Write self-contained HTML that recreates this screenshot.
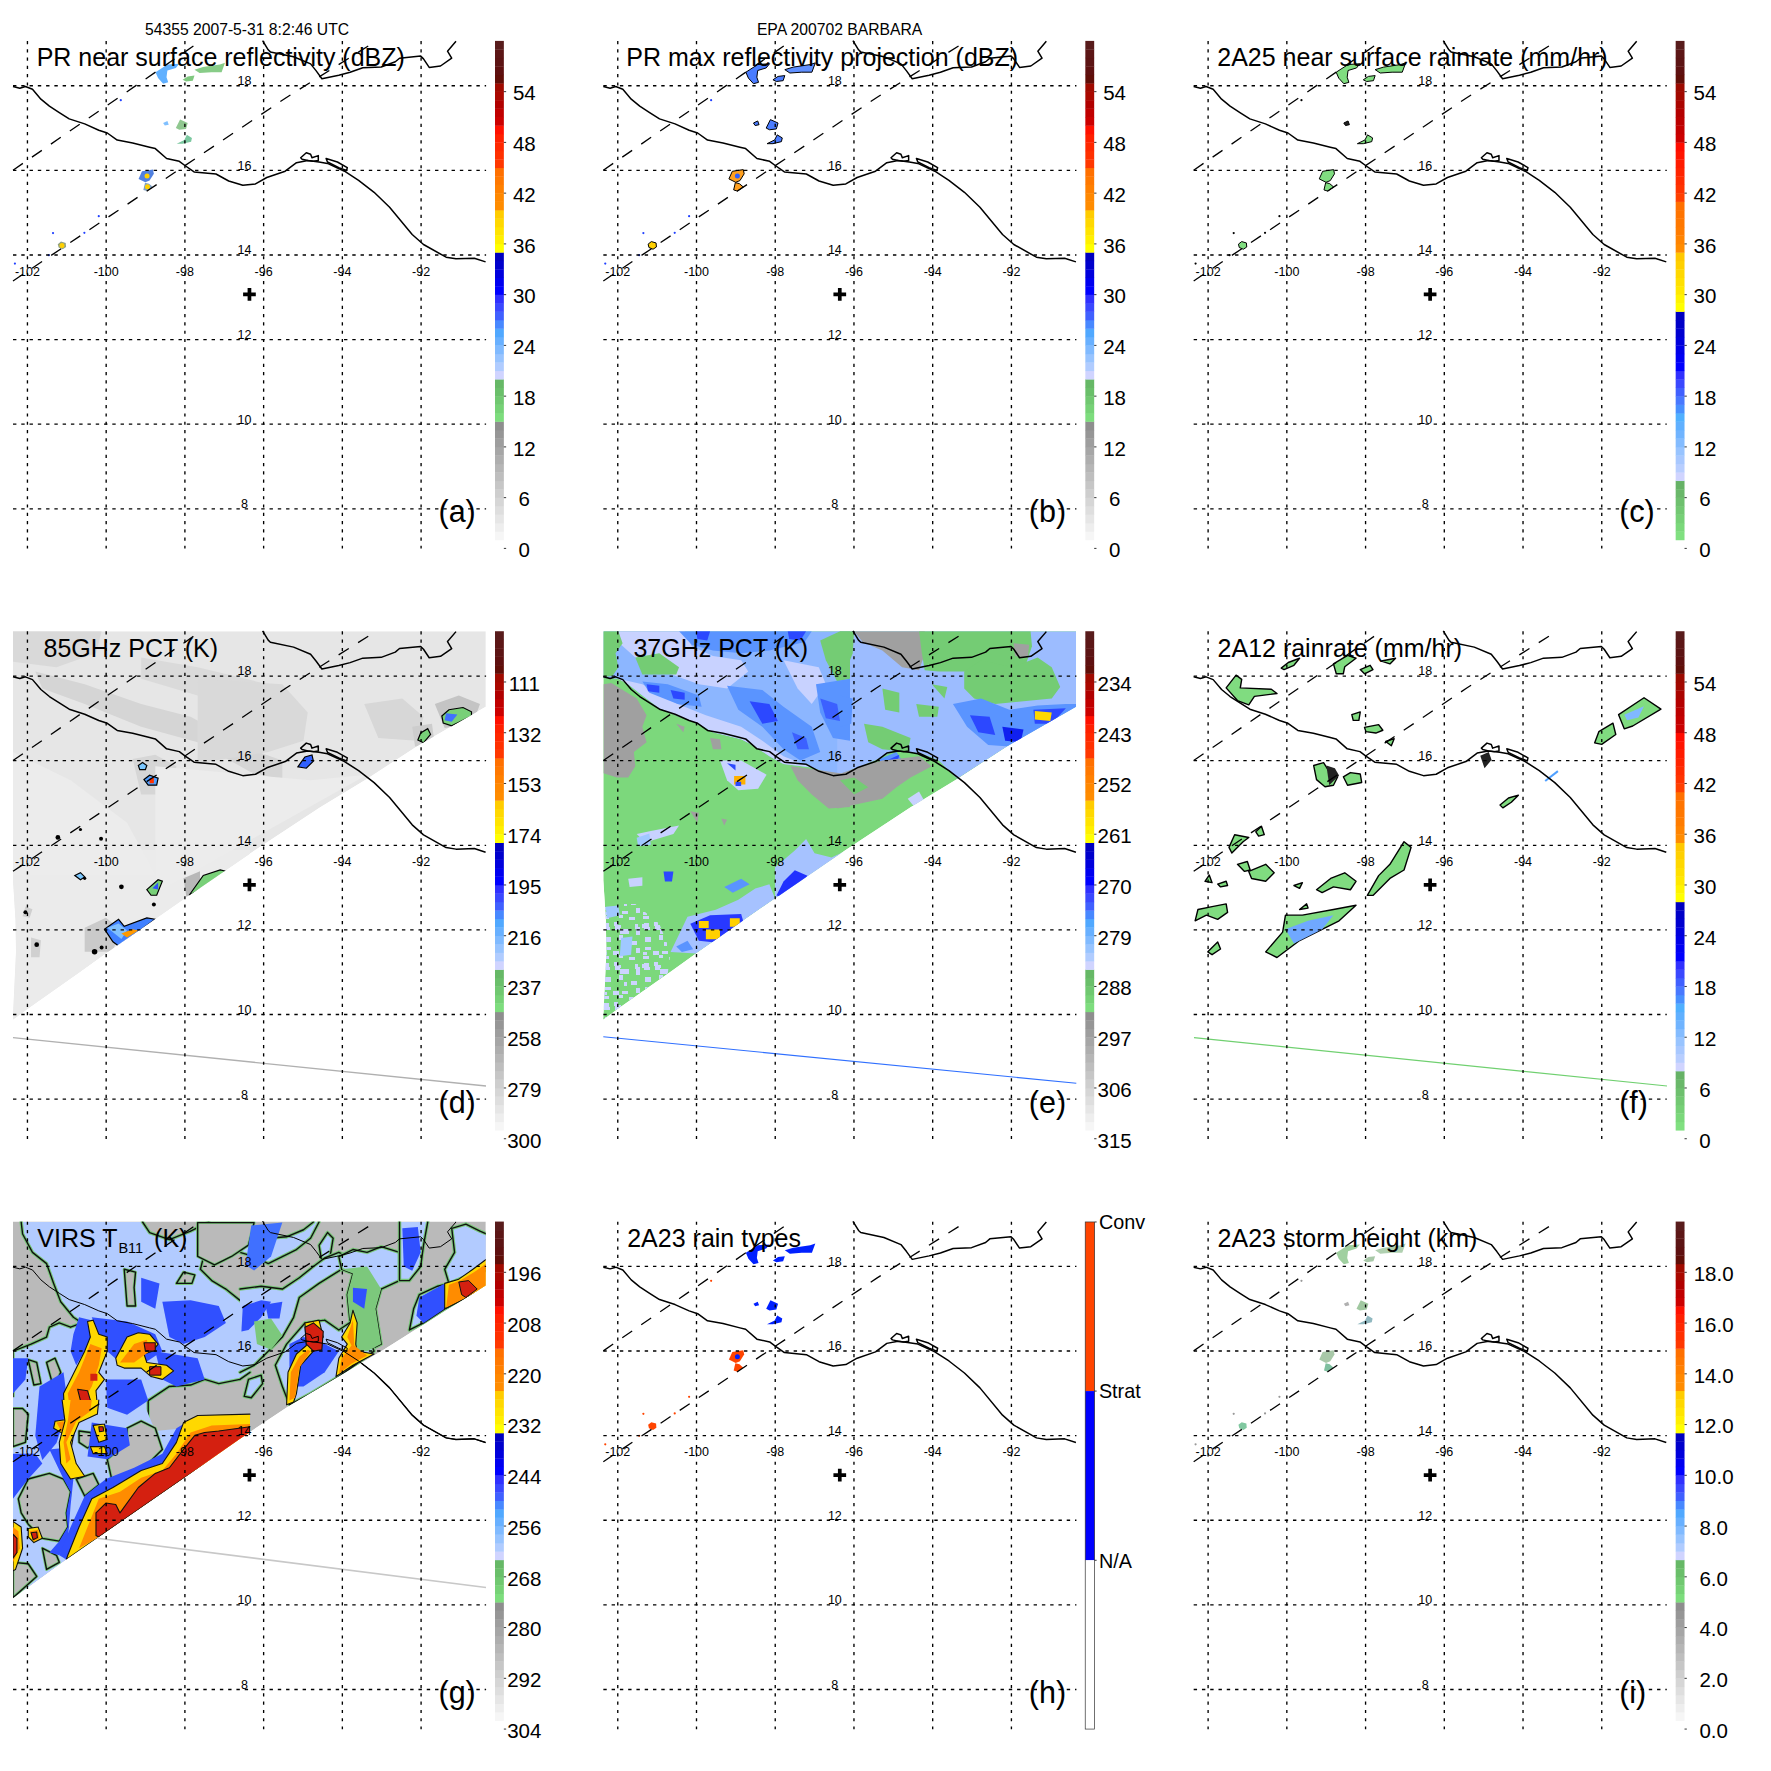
<!DOCTYPE html>
<html><head><meta charset="utf-8"><style>
html,body{margin:0;padding:0;background:#fff;}
svg{display:block;font-family:"Liberation Sans",sans-serif;}
</style></head><body>
<svg width="1771" height="1771" viewBox="0 0 1771 1771">
<rect width="1771" height="1771" fill="#fff"/>
<defs><g id="grid" fill="none" stroke="#000" stroke-width="1.35"><path d="M27.44 41V548.6M106.17 41V548.6M184.9 41V548.6M263.63 41V548.6M342.36 41V548.6M421.09 41V548.6" stroke-dasharray="3.2 5.075"/><path d="M13 85.75H486.1M13 170.36H486.1M13 254.97H486.1M13 339.58H486.1M13 424.19H486.1M13 508.8H486.1" stroke-dasharray="3.4 4.875"/></g><g id="swath" fill="none" stroke="#000" stroke-width="1.3" stroke-dasharray="12 11"><path d="M13 170.2L200 41.5"/><path d="M13 281L286.1 97.7L375.9 41.1"/></g><g id="coast" fill="none" stroke="#000" stroke-width="1.5" stroke-linejoin="round"><path d="M13 86.5 L19.8 88.2 L25.4 86.5 L32.5 89.3 L40.9 99.2 L49.4 106.2 L59.3 112.6 L69.2 118.9 L84.7 123.9 L98.8 130.2 L107.3 133 L117.2 140.1 L132.7 142.9 L149.6 147.2 L155.3 148.6 L166.6 158.5 L179.3 161.3 L184.9 165.5 L194.1 171.9 L216 174 L228.7 181 L242.8 185.3 L255.5 183.9 L266.8 177.5 L285.2 171.2 L296.5 162.7 L307.8 160.6 L319 162 L327.5 163.4 L344.5 171.2 L358.6 180.3 L374.1 192.3 L389.6 207.2 L412.2 234.5 L423.5 244.5 L446.1 257.2 L456 258.8 L474.3 258.2 L485.6 261.9"/><path d="M262.6 40.6 L268.2 49.8 L270.4 51.9 L293.6 56.8 L310.6 63.9 L316.2 70.9 L321.9 78.7 L338.8 75.2 L350.1 72.3 L362.8 67.8 L381.2 67 L395.3 61.8 L399.5 58.2 L420.7 56.1 L423.5 58.9 L429.2 67.4 L440.5 66 L451.7 58.2 L447.5 51.2 L456 41.3"/><path d="M300.7 157.8 L306.3 152.8 L310.6 154.2 L312 157.8 L318.3 155.6 L318.3 160.6 L313.4 161.3 L307.8 160.6 L302.1 159.2Z"/><path d="M326.1 158.5 L337.4 162 L347.3 167.6 L346.6 170.5 L338.8 167.6 L327.5 162Z"/></g><g id="coastthin" fill="none" stroke="#000" stroke-width="1.0" stroke-linejoin="round"><path d="M13 86.5 L19.8 88.2 L25.4 86.5 L32.5 89.3 L40.9 99.2 L49.4 106.2 L59.3 112.6 L69.2 118.9 L84.7 123.9 L98.8 130.2 L107.3 133 L117.2 140.1 L132.7 142.9 L149.6 147.2 L155.3 148.6 L166.6 158.5 L179.3 161.3 L184.9 165.5 L194.1 171.9 L216 174 L228.7 181 L242.8 185.3 L255.5 183.9 L266.8 177.5 L285.2 171.2 L296.5 162.7 L307.8 160.6 L319 162 L327.5 163.4 L344.5 171.2 L358.6 180.3 L374.1 192.3 L389.6 207.2 L412.2 234.5 L423.5 244.5 L446.1 257.2 L456 258.8 L474.3 258.2 L485.6 261.9"/><path d="M262.6 40.6 L268.2 49.8 L270.4 51.9 L293.6 56.8 L310.6 63.9 L316.2 70.9 L321.9 78.7 L338.8 75.2 L350.1 72.3 L362.8 67.8 L381.2 67 L395.3 61.8 L399.5 58.2 L420.7 56.1 L423.5 58.9 L429.2 67.4 L440.5 66 L451.7 58.2 L447.5 51.2 L456 41.3"/><path d="M300.7 157.8 L306.3 152.8 L310.6 154.2 L312 157.8 L318.3 155.6 L318.3 160.6 L313.4 161.3 L307.8 160.6 L302.1 159.2Z"/><path d="M326.1 158.5 L337.4 162 L347.3 167.6 L346.6 170.5 L338.8 167.6 L327.5 162Z"/></g><g id="ll" font-size="12.5"><text x="27.44" y="275.7" text-anchor="middle">-102</text><text x="106.17" y="275.7" text-anchor="middle">-100</text><text x="184.9" y="275.7" text-anchor="middle">-98</text><text x="263.63" y="275.7" text-anchor="middle">-96</text><text x="342.36" y="275.7" text-anchor="middle">-94</text><text x="421.09" y="275.7" text-anchor="middle">-92</text><text x="244.5" y="85.15" text-anchor="middle">18</text><text x="244.5" y="169.76" text-anchor="middle">16</text><text x="244.5" y="254.37" text-anchor="middle">14</text><text x="244.5" y="338.98" text-anchor="middle">12</text><text x="244.5" y="423.59" text-anchor="middle">10</text><text x="244.5" y="508.2" text-anchor="middle">8</text></g><path id="cross" d="M243.1 292.6h12.7v3.7h-12.7zM247.6 288.1h3.7v12.7h-3.7z" fill="#000"/></defs>
<defs><clipPath id="swE"><path d="M603.33 631.13 L1076.13 631.13 L1076.13 706.63 L1009.43 745.03 L957.23 778.93 L910.63 807.13 L845.33 850.33 L775.03 898.43 L696.03 953.53 L670.63 971.83 L618.43 1008.53 L603.13 1019.83 L606.33 952.33 L605.83 920.33 L603.33 880.33Z"/></clipPath><clipPath id="swD"><path d="M13 631.13 L485.8 631.13 L485.8 706.63 L419.1 745.03 L366.9 778.93 L320.3 807.13 L255 850.33 L184.7 898.43 L105.7 953.53 L80.3 971.83 L28.1 1008.53 L12.8 1019.83 L16 952.33 L15.5 920.33 L13 880.33Z"/></clipPath></defs><g clip-path="url(#swE)"><path d="M603.33 631.13 L1076.13 631.13 L1076.13 706.63 L1009.43 745.03 L957.23 778.93 L910.63 807.13 L845.33 850.33 L775.03 898.43 L696.03 953.53 L670.63 971.83 L618.43 1008.53 L603.13 1019.83 L606.33 952.33 L605.83 920.33 L603.33 880.33Z" fill="#7cd87c" /><path d="M603.53 631.35 L850 631.35 L850 774.63 L832.92 774.63 L811.74 767.57 L783.51 764.05 L769.4 756.28 L752.46 744.99 L741.16 739.34 L712.93 732.28 L698.81 723.81 L679.05 716.76 L659.29 708.29 L642.35 695.58 L628.23 684.29 L618.35 678.64 L603.53 677.94Z" fill="#8cb6ff" /><path d="M837.18 631.35 L1076.02 631.35 L1076.02 706.87 L1009.4 744.99 L957.17 778.87 L938.81 760.52 L924.7 754.87 L910.58 752.05 L896.47 749.22 L878.11 759.11 L861.17 766.16 L837.18 774.63Z" fill="#9cbcff" /><path d="M618.35 631.35 L684.7 631.35 L691.76 646.17 L712.93 656.06 L741.16 660.29 L748.22 671.58 L727.05 688.52 L698.81 684.29 L663.52 671.58 L635.29 657.47 L621.17 644.76Z" fill="#c8d2ff" /><path d="M618.35 678.64 L642.35 684.29 L677.64 704.05 L705.87 715.34 L741.16 726.64 L762.34 740.75 L783.51 756.28 L811.74 767.57 L783.51 764.05 L769.4 756.28 L752.46 744.99 L741.16 739.34 L712.93 732.28 L698.81 723.81 L679.05 716.76 L659.29 708.29 L642.35 695.58 L628.23 684.29Z" fill="#c8d2ff" /><path d="M783.51 660.29 L818.8 667.35 L825.86 684.29 L811.74 704.05 L797.63 688.52Z" fill="#c8d2ff" /><path d="M603.53 631.35 L618.35 631.35 L622.59 643.35 L615.53 653.23 L618.35 667.35 L612.7 675.82 L603.53 677.23Z" fill="#74cc74" /><path d="M635.29 657.47 L659.29 653.23 L679.05 667.35 L676.23 674.41 L642.35 674.41Z" fill="#74cc74" /><path d="M820.21 640.53 L839.98 631.35 L850 631.35 L850 678.64 L837.15 681.47 L825.86 660.29Z" fill="#74cc74" /><path d="M679.05 631.35 L811.74 631.35 L804.69 641.94 L769.4 650.41 L741.16 653.23 L712.93 650.41 L691.76 644.76Z" fill="#5a94ff" /><path d="M695.99 631.35 L710.11 631.35 L707.28 640.53 L697.4 639.12Z" fill="#2c48ff" /><path d="M787.75 631.35 L806.1 631.35 L800.45 640.53 L789.16 639.12Z" fill="#2c48ff" /><path d="M642.35 681.47 L667.76 684.29 L698.81 695.58 L701.64 706.87 L677.64 704.05 L649.41 692.76Z" fill="#5a94ff" /><path d="M646.58 684.29 L659.29 685.7 L659.29 692.76 L648 691.35Z" fill="#2c48ff" /><path d="M670.58 689.94 L684.7 692.76 L684.7 699.82 L673.4 698.4Z" fill="#2c48ff" /><path d="M727.05 685.7 L762.34 689.94 L783.51 706.87 L811.74 726.64 L820.21 752.05 L800.45 760.52 L783.51 749.22 L762.34 726.64 L738.34 709.7Z" fill="#5a94ff" /><path d="M749.63 701.23 L769.4 704.05 L777.87 720.99 L762.34 723.81Z" fill="#2c48ff" /><path d="M791.98 732.28 L806.1 737.93 L808.92 749.22 L797.63 749.22Z" fill="#3c60ff" /><path d="M815.98 684.29 L850 678.64 L850 740.75 L832.92 737.93 L820.21 712.52Z" fill="#5a94ff" /><path d="M820.21 698.4 L837.15 704.05 L839.98 720.99 L825.86 718.17Z" fill="#3c60ff" /><path d="M603.53 684.29 L611.29 682.88 L636.7 698.4 L646.58 715.34 L642.35 726.64 L646.58 742.17 L633.88 752.05 L635.29 766.16 L628.23 777.46 L616.94 777.46 L603.53 773.22Z" fill="#a0a0a0" /><path d="M790.57 766.16 L811.74 768.99 L850 774.63 L850 807.1 L828.68 808.51 L811.74 794.4 L797.63 780.28Z" fill="#a0a0a0" /><path d="M710.11 737.93 L719.99 739.34 L721.4 749.22 L712.93 749.22Z" fill="#a0a0a0" /><path d="M676.23 723.81 L684.7 726.64 L683.29 732.28Z" fill="#a0a0a0" /><path d="M690.34 811.34 L698.81 812.75 L697.4 822.63Z" fill="#a0a0a0" /><path d="M721.4 818.39 L727.05 819.81 L724.22 825.45Z" fill="#a0a0a0" /><path d="M719.99 760.52 L741.16 760.52 L766.57 774.63 L758.1 788.75 L738.34 790.16 L727.05 780.28Z" fill="#c8d2ff" /><path d="M727.05 763.34 L735.52 764.75 L735.52 770.4Z" fill="#2c48ff" /><path d="M734.11 776.04 L745.4 776.04 L745.4 784.51 L734.11 784.51Z" fill="#ffb000" /><path d="M735.52 781.69 L741.16 781.69 L741.16 785.93 L735.52 785.93Z" fill="#2c48ff" /><path d="M636.7 833.92 L650.82 831.1 L679.05 825.45 L673.4 833.92 L645.17 842.39Z" fill="#c8d2ff" /><path d="M854.12 631.35 L924.7 631.35 L927.52 646.17 L919.05 670.17 L902.11 667.35 L882.35 650.41 L862.59 641.94Z" fill="#a0a0a0" /><path d="M919.05 631.35 L1030.57 631.35 L1031.98 646.17 L1023.51 671.58 L967.05 671.58 L938.81 671.58 L924.7 670.17 L921.87 653.23Z" fill="#74cc74" /><path d="M1013.63 643.35 L1029.16 644.76 L1027.75 657.47 L1015.04 656.06Z" fill="#a0a0a0" /><path d="M964.22 671.58 L981.16 660.29 L1012.22 667.35 L1037.63 657.47 L1051.74 667.35 L1060.21 687.11 L1051.74 698.4 L1023.51 701.23 L995.28 704.05 L974.11 698.4 L964.22 688.52Z" fill="#74cc74" /><path d="M840 631.35 L854.12 631.35 L852.7 653.23 L845.65 671.58 L840 671.58Z" fill="#74cc74" /><path d="M864 723.81 L882.35 726.64 L910.58 737.93 L907.76 752.05 L882.35 749.22 L868.23 742.17Z" fill="#74cc74" /><path d="M882.35 688.52 L899.29 692.76 L899.29 712.52 L885.17 709.7Z" fill="#74cc74" /><path d="M916.23 704.05 L938.81 706.87 L937.4 716.76 L919.05 716.76Z" fill="#74cc74" /><path d="M931.76 684.29 L947.28 687.11 L944.46 698.4Z" fill="#74cc74" /><path d="M952.93 704.05 L981.16 698.4 L1009.4 709.7 L1037.63 705.46 L1065.86 704.05 L1076.02 704.05 L1076.02 709.7 L1009.4 746.4 L988.22 744.99 L967.05 726.64Z" fill="#5a94ff" /><path d="M969.87 715.34 L989.63 716.76 L995.28 735.11 L978.34 732.28Z" fill="#2c48ff" /><path d="M1002.34 726.64 L1023.51 729.46 L1020.69 742.17 L1005.16 740.75Z" fill="#1020f0" /><path d="M1033.39 709.7 L1065.86 708.29 L1051.74 723.81 L1034.81 723.81Z" fill="#2c48ff" /><path d="M1034.81 711.11 L1051.74 712.52 L1050.33 720.99 L1034.81 719.58Z" fill="#ffd800" /><path d="M840 695.58 L852.7 698.4 L851.29 723.81 L840 726.64Z" fill="#5a94ff" /><path d="M879.53 759.11 L896.47 752.05 L902.11 760.52 L893.64 770.4 L882.35 770.4Z" fill="#5a94ff" /><path d="M886.58 760.52 L899.29 754.87 L896.47 766.16 L888 768.99Z" fill="#2c48ff" /><path d="M837.18 774.63 L861.17 766.16 L882.35 760.52 L896.47 759.11 L919.05 756.28 L931.76 766.16 L910.58 777.46 L896.47 787.34 L882.35 798.63 L837.18 808.51Z" fill="#a0a0a0" /><path d="M840 780.28 L854.12 777.46 L868.23 787.34 L854.12 794.4Z" fill="#74cc74" /><path d="M907.76 798.63 L919.05 791.57 L924.7 801.45 L913.4 805.69Z" fill="#c8d2ff" /><path d="M775.04 898.4 L775.04 867.35 L794.81 850.41 L806.1 839.12 L814.57 853.23 L831.51 857.47 L850 849 L850 881.47Z" fill="#a6c2ff" /><path d="M776.45 895.58 L783.51 881.47 L794.81 870.17 L807.51 875.82 L800.45 884.29 L782.1 896.99Z" fill="#2030ff" /><path d="M670.58 952.05 L687.52 916.76 L715.75 909.7 L738.34 899.82 L755.28 888.52 L769.4 884.29 L775.04 898.4 L695.99 953.46Z" fill="#a6c2ff" /><path d="M724.22 887.11 L741.16 878.64 L749.63 884.29 L732.69 892.76Z" fill="#5a94ff" /><path d="M690.34 923.81 L710.11 915.34 L741.16 913.93 L743.99 923.81 L712.93 942.17 L698.81 940.75Z" fill="#2838ff" /><path d="M676.23 946.4 L687.52 940.75 L693.17 949.22 L681.87 952.05Z" fill="#5a94ff" /><path d="M698.81 920.99 L708.7 920.99 L708.7 928.05 L698.81 928.05Z" fill="#ffd000" /><path d="M705.87 929.46 L719.99 929.46 L719.99 939.34 L705.87 939.34Z" fill="#ffd000" /><path d="M729.87 918.17 L739.75 918.17 L739.75 926.64 L729.87 926.64Z" fill="#ffd000" /><defs><pattern id="lvE" patternUnits="userSpaceOnUse" width="40" height="40"><rect x="20" y="9" width="6" height="5" fill="#ccd4ff"/><rect x="3" y="4" width="3" height="4" fill="#ccd4ff"/><rect x="3" y="32" width="4" height="3" fill="#ccd4ff"/><rect x="5" y="27" width="6" height="3" fill="#ccd4ff"/><rect x="15" y="5" width="6" height="3" fill="#ccd4ff"/><rect x="36" y="7" width="4" height="5" fill="#ccd4ff"/><rect x="3" y="36" width="6" height="3" fill="#ccd4ff"/><rect x="14" y="2" width="4" height="4" fill="#ccd4ff"/><rect x="26" y="9" width="3" height="5" fill="#ccd4ff"/><rect x="19" y="35" width="4" height="3" fill="#ccd4ff"/><rect x="36" y="12" width="5" height="3" fill="#ccd4ff"/><rect x="35" y="4" width="3" height="5" fill="#ccd4ff"/><rect x="13" y="31" width="6" height="4" fill="#ccd4ff"/><rect x="29" y="37" width="6" height="4" fill="#ccd4ff"/><rect x="19" y="15" width="4" height="5" fill="#ccd4ff"/><rect x="15" y="5" width="5" height="5" fill="#ccd4ff"/><rect x="31" y="21" width="6" height="4" fill="#ccd4ff"/><rect x="4" y="7" width="6" height="3" fill="#ccd4ff"/><rect x="21" y="9" width="6" height="4" fill="#ccd4ff"/><rect x="2" y="4" width="5" height="4" fill="#ccd4ff"/><rect x="22" y="31" width="6" height="3" fill="#ccd4ff"/><rect x="5" y="17" width="6" height="5" fill="#ccd4ff"/><rect x="4" y="3" width="5" height="5" fill="#ccd4ff"/><rect x="36" y="28" width="5" height="5" fill="#ccd4ff"/><rect x="24" y="22" width="3" height="4" fill="#ccd4ff"/><rect x="22" y="10" width="3" height="4" fill="#ccd4ff"/></pattern></defs><path d="M603.53 904.05 L635.29 904.05 L659.29 923.81 L670.58 952.05 L667.76 973.22 L618.35 1008.51 L603.53 1019.81Z" fill="url(#lvE)" /><path d="M605.65 906.87 L618.35 905.46 L619.76 915.34 L607.06 918.17Z" fill="#a0c8ff" /><path d="M621.17 937.93 L632.47 936.52 L631.06 954.87 L619.76 956.28Z" fill="#a0c8ff" /><path d="M663.52 871.58 L673.4 871.58 L671.99 881.47 L664.94 881.47Z" fill="#2c48ff" /><path d="M628.23 878.64 L642.35 877.23 L642.35 885.7 L629.64 887.11Z" fill="#c8d2ff" /><path d="M636.7 837.7 L649.41 833.47 L650.82 844.76 L638.11 846.17Z" fill="#a0c8ff" /></g><g clip-path="url(#swD)"><path d="M13 631.13 L485.8 631.13 L485.8 706.63 L419.1 745.03 L366.9 778.93 L320.3 807.13 L255 850.33 L184.7 898.43 L105.7 953.53 L80.3 971.83 L28.1 1008.53 L12.8 1019.83 L16 952.33 L15.5 920.33 L13 880.33Z" fill="#e6e6e6" /><path d="M12.99 850 L250 850 L250 892.35 L112.93 948.81 L12.99 1020.81Z" fill="#ebebeb" /><path d="M12.99 631.35 L101.64 631.35 L95.99 653.23 L56.47 667.35 L12.99 661.7Z" fill="#d9d9d9" /><path d="M35.29 671.58 L84.7 684.29 L141.16 704.05 L190.57 716.76 L250 749.22 L282.33 760.52 L282.33 780.28 L250 771.81 L197.63 742.17 L141.16 726.64 L84.7 704.05 L42.35 688.52Z" fill="#d5d5d5" /><path d="M141.16 657.47 L197.63 667.35 L268.21 684.29 L268.21 709.7 L197.63 695.58 L141.16 678.64Z" fill="#dadada" /><path d="M132.69 759.11 L155.28 754.87 L176.45 766.16 L169.4 794.4 L141.16 794.4Z" fill="#d6d6d6" /><path d="M12.99 752.05 L70.58 780.28 L127.05 822.63 L155.28 875 L12.99 875Z" fill="#ececec" /><path d="M197.65 678.64 L282.35 684.29 L307.76 712.52 L303.52 740.75 L268.23 752.05 L197.65 763.34Z" fill="#d9d9d9" /><path d="M364.22 704.05 L402.34 698.4 L423.51 716.76 L416.45 740.75 L378.34 737.93Z" fill="#d7d7d7" /><path d="M434.81 704.05 L458.8 695.58 L479.98 704.05 L472.92 723.81 L444.69 728.05Z" fill="#c4c4c4" /><path d="M412.22 726.64 L431.98 723.81 L434.81 744.99 L415.04 746.4Z" fill="#cdcdcd" /><path d="M155.3 766.16 L310.58 780.28 L367.05 774.63 L155.3 893.21Z" fill="#ececec" /><path d="M84.7 927.64 L105.87 917.76 L119.99 929.05 L112.93 951.64 L84.7 951.64Z" fill="#cacaca" /><path d="M183.51 878.23 L200.03 871.17 L200.03 892.35 L186.34 896.58Z" fill="#b8b8b8" /><path d="M25.41 906.47 L32.47 909.29 L29.64 917.76 L22.59 916.35Z" fill="#cfcfcf" /><path d="M31.06 937.52 L40.94 940.34 L39.53 957.28 L31.06 957.28Z" fill="#d0d0d0" /><path d="M138.34 765.4 L142.57 762.57 L146.81 765.4 L145.4 769.63 L139.75 769.63Z" fill="#7cc8ff" stroke="#000" stroke-width="1.2"/><path d="M143.99 779.51 L149.63 775.28 L158.1 778.1 L156.69 785.16 L148.22 785.16Z" fill="#50a0ff" stroke="#000" stroke-width="1.2"/><path d="M149.63 778.1 L153.87 778.1 L153.87 783.18 L149.63 783.18Z" fill="#ff3300" /><path d="M297.85 766.81 L304.91 756.93 L311.97 754.95 L313.38 761.16 L306.32 768.22Z" fill="#3060ff" stroke="#000" stroke-width="1.2"/><path d="M417.84 739.99 L420.67 732.93 L427.72 728.7 L430.55 734.34 L423.49 742.81Z" fill="#78d078" stroke="#000" stroke-width="1.2"/><path d="M441.84 715.99 L448.9 709.78 L463.02 707.52 L471.49 711.76 L471.49 715.99 L451.72 725.87 L443.25 723.05Z" fill="#78d078" stroke="#000" stroke-width="1.2"/><path d="M446.08 713.17 L457.37 714.58 L451.72 721.64 L444.66 720.23Z" fill="#4070ff" /><path d="M189.16 895.27 L203.27 875.51 L220.21 869.86 L225.86 871.27 L214.57 882.56Z" fill="#78d078" stroke="#000" stroke-width="1.2"/><path d="M104.46 929.15 L118.58 919.27 L124.22 926.32 L146.81 917.85 L155.28 919.27 L118.58 946.09 L112.93 941.85Z" fill="#4080ff" stroke="#000" stroke-width="1.2"/><path d="M107.28 927.74 L118.58 923.5 L127.05 930.56 L121.4 939.03Z" fill="#80c0ff" /><path d="M121.4 933.38 L132.69 929.15 L138.34 930.56 L127.05 937.62Z" fill="#ff9900" /><path d="M146.81 889.62 L158.1 879.74 L162.34 881.15 L156.69 895.27 L151.04 895.27Z" fill="#78d078" stroke="#000" stroke-width="1.2"/><path d="M152.46 888.21 L158.1 882.56 L158.1 889.62Z" fill="#3050ff" /><path d="M74.82 875.51 L80.46 872.68 L84.7 876.92 L80.46 879.74Z" fill="#7cc8ff" stroke="#000" stroke-width="1.2"/><circle cx="57.88" cy="837.39" r="2.37" fill="#000"/><circle cx="80.46" cy="829.49" r="1.58" fill="#000"/><circle cx="101.07" cy="838.8" r="1.98" fill="#000"/><circle cx="121.4" cy="886.8" r="2.37" fill="#000"/><circle cx="153.87" cy="904.58" r="1.98" fill="#000"/><circle cx="25.41" cy="912.21" r="1.98" fill="#000"/><circle cx="36.7" cy="944.68" r="2.37" fill="#000"/><circle cx="94.58" cy="951.73" r="2.77" fill="#000"/><circle cx="101.64" cy="947.5" r="1.98" fill="#000"/><circle cx="84.7" cy="878.33" r="1.58" fill="#000"/></g><path d="M13 1037.7L486 1086" stroke="#b0b0b0" stroke-width="1.3" fill="none"/><defs><clipPath id="swG"><path d="M13 1221.5 L485.8 1221.5 L485.6 1285.5 L381.2 1351.2 L290.8 1404.8 L240 1438.7 L183.5 1478.3 L98.8 1536.9 L66.3 1559.5 L13 1598.3Z"/></clipPath></defs><g clip-path="url(#swG)"><path d="M13 1221.5 L485.8 1221.5 L485.6 1285.5 L381.2 1351.2 L290.8 1404.8 L240 1438.7 L183.5 1478.3 L98.8 1536.9 L66.3 1559.5 L13 1598.3Z" fill="#bababa" /><path d="M21.17 1222 L142.57 1222 L149.63 1232.59 L169.4 1239.64 L190.57 1231.17 L208.92 1222 L250 1222 L250 1235.41 L225.86 1241.06 L204.69 1252.35 L200.45 1269.29 L211.74 1280.58 L225.86 1289.05 L239.98 1300.34 L250 1308.81 L250 1372.34 L239.98 1379.4 L218.8 1383.63 L204.69 1379.4 L190.57 1385.04 L169.4 1386.45 L148.22 1400.57 L148.22 1421.74 L134.11 1414.69 L119.99 1418.92 L98.81 1433.04 L84.7 1442.92 L87.52 1460 L35.29 1460 L31.06 1442.92 L36.7 1424.57 L28.23 1407.63 L12.99 1404.81 L12.99 1351.16 L31.06 1344.11 L46.58 1337.05 L49.41 1327.17 L59.29 1322.93 L70.58 1327.17 L81.87 1322.93 L73.4 1317.28 L60.7 1301.76 L53.64 1283.4 L46.58 1263.64 L32.47 1252.35 L22.59 1234Z" fill="#b2cbff"/><path d="M142.57 1222L149.63 1232.59M149.63 1232.59L169.4 1239.64M169.4 1239.64L190.57 1231.17M190.57 1231.17L208.92 1222M250 1235.41L225.86 1241.06M225.86 1241.06L204.69 1252.35M204.69 1252.35L200.45 1269.29M200.45 1269.29L211.74 1280.58M211.74 1280.58L225.86 1289.05M225.86 1289.05L239.98 1300.34M239.98 1300.34L250 1308.81M250 1372.34L239.98 1379.4M239.98 1379.4L218.8 1383.63M218.8 1383.63L204.69 1379.4M204.69 1379.4L190.57 1385.04M190.57 1385.04L169.4 1386.45M169.4 1386.45L148.22 1400.57M148.22 1400.57L148.22 1421.74M148.22 1421.74L134.11 1414.69M134.11 1414.69L119.99 1418.92M119.99 1418.92L98.81 1433.04M98.81 1433.04L84.7 1442.92M84.7 1442.92L87.52 1460M87.52 1460L35.29 1460M35.29 1460L31.06 1442.92M31.06 1442.92L36.7 1424.57M36.7 1424.57L28.23 1407.63M28.23 1407.63L12.99 1404.81M12.99 1404.81L12.99 1351.16M12.99 1351.16L31.06 1344.11M31.06 1344.11L46.58 1337.05M46.58 1337.05L49.41 1327.17M49.41 1327.17L59.29 1322.93M59.29 1322.93L70.58 1327.17M70.58 1327.17L81.87 1322.93M81.87 1322.93L73.4 1317.28M73.4 1317.28L60.7 1301.76M60.7 1301.76L53.64 1283.4M53.64 1283.4L46.58 1263.64M46.58 1263.64L32.47 1252.35M32.47 1252.35L22.59 1234M22.59 1234L21.17 1222" fill="none" stroke="#78c878" stroke-width="3.5" stroke-linecap="round" stroke-linejoin="round"/><path d="M142.57 1222L149.63 1232.59M149.63 1232.59L169.4 1239.64M169.4 1239.64L190.57 1231.17M190.57 1231.17L208.92 1222M250 1235.41L225.86 1241.06M225.86 1241.06L204.69 1252.35M204.69 1252.35L200.45 1269.29M200.45 1269.29L211.74 1280.58M211.74 1280.58L225.86 1289.05M225.86 1289.05L239.98 1300.34M239.98 1300.34L250 1308.81M250 1372.34L239.98 1379.4M239.98 1379.4L218.8 1383.63M218.8 1383.63L204.69 1379.4M204.69 1379.4L190.57 1385.04M190.57 1385.04L169.4 1386.45M169.4 1386.45L148.22 1400.57M148.22 1400.57L148.22 1421.74M148.22 1421.74L134.11 1414.69M134.11 1414.69L119.99 1418.92M119.99 1418.92L98.81 1433.04M98.81 1433.04L84.7 1442.92M84.7 1442.92L87.52 1460M87.52 1460L35.29 1460M35.29 1460L31.06 1442.92M31.06 1442.92L36.7 1424.57M36.7 1424.57L28.23 1407.63M28.23 1407.63L12.99 1404.81M12.99 1404.81L12.99 1351.16M12.99 1351.16L31.06 1344.11M31.06 1344.11L46.58 1337.05M46.58 1337.05L49.41 1327.17M49.41 1327.17L59.29 1322.93M59.29 1322.93L70.58 1327.17M70.58 1327.17L81.87 1322.93M81.87 1322.93L73.4 1317.28M73.4 1317.28L60.7 1301.76M60.7 1301.76L53.64 1283.4M53.64 1283.4L46.58 1263.64M46.58 1263.64L32.47 1252.35M32.47 1252.35L22.59 1234M22.59 1234L21.17 1222" fill="none" stroke="#111" stroke-width="1.4" stroke-linecap="round" stroke-linejoin="round"/><path d="M124.22 1269.29 L135.52 1272.11 L134.11 1287.64 L135.52 1305.99 L127.05 1305.99Z" fill="#bababa" stroke="#78c878" stroke-width="3" stroke-linejoin="round"/><path d="M124.22 1269.29 L135.52 1272.11 L134.11 1287.64 L135.52 1305.99 L127.05 1305.99Z" fill="none" stroke="#111" stroke-width="1.4" stroke-linejoin="round"/><path d="M176.45 1283.4 L183.51 1272.11 L194.81 1274.94 L191.98 1283.4Z" fill="#bababa" stroke="#78c878" stroke-width="3" stroke-linejoin="round"/><path d="M176.45 1283.4 L183.51 1272.11 L194.81 1274.94 L191.98 1283.4Z" fill="none" stroke="#111" stroke-width="1.4" stroke-linejoin="round"/><path d="M28.23 1359.63 L36.7 1362.46 L40.94 1383.63 L33.88 1385.04Z" fill="#bababa" stroke="#78c878" stroke-width="3" stroke-linejoin="round"/><path d="M28.23 1359.63 L36.7 1362.46 L40.94 1383.63 L33.88 1385.04Z" fill="none" stroke="#111" stroke-width="1.4" stroke-linejoin="round"/><path d="M46.58 1362.46 L55.05 1358.22 L60.7 1372.34 L53.64 1387.87Z" fill="#bababa" stroke="#78c878" stroke-width="3" stroke-linejoin="round"/><path d="M46.58 1362.46 L55.05 1358.22 L60.7 1372.34 L53.64 1387.87Z" fill="none" stroke="#111" stroke-width="1.4" stroke-linejoin="round"/><path d="M240 1243.88 L248.47 1242.47 L268.23 1238.23 L286.58 1236.82 L303.52 1229.76 L313.4 1222 L319.05 1222 L310.58 1238.23 L296.47 1249.53 L282.35 1256.58 L268.23 1263.64 L254.12 1256.58 L240 1252.35Z" fill="#b2cbff"/><path d="M240 1243.88L248.47 1242.47M248.47 1242.47L268.23 1238.23M268.23 1238.23L286.58 1236.82M286.58 1236.82L303.52 1229.76M303.52 1229.76L313.4 1222M319.05 1222L310.58 1238.23M310.58 1238.23L296.47 1249.53M296.47 1249.53L282.35 1256.58M282.35 1256.58L268.23 1263.64M268.23 1263.64L254.12 1256.58M254.12 1256.58L240 1252.35" fill="none" stroke="#78c878" stroke-width="3.5" stroke-linecap="round" stroke-linejoin="round"/><path d="M240 1243.88L248.47 1242.47M248.47 1242.47L268.23 1238.23M268.23 1238.23L286.58 1236.82M286.58 1236.82L303.52 1229.76M303.52 1229.76L313.4 1222M319.05 1222L310.58 1238.23M310.58 1238.23L296.47 1249.53M296.47 1249.53L282.35 1256.58M282.35 1256.58L268.23 1263.64M268.23 1263.64L254.12 1256.58M254.12 1256.58L240 1252.35" fill="none" stroke="#111" stroke-width="1.4" stroke-linecap="round" stroke-linejoin="round"/><path d="M319.05 1245.29 L327.52 1232.59 L333.17 1238.23 L330.34 1255.17 L321.87 1262.23Z" fill="#b2cbff"/><path d="M319.05 1245.29L327.52 1232.59M327.52 1232.59L333.17 1238.23M333.17 1238.23L330.34 1255.17M330.34 1255.17L321.87 1262.23M321.87 1262.23L319.05 1245.29" fill="none" stroke="#78c878" stroke-width="3.5" stroke-linecap="round" stroke-linejoin="round"/><path d="M319.05 1245.29L327.52 1232.59M327.52 1232.59L333.17 1238.23M333.17 1238.23L330.34 1255.17M330.34 1255.17L321.87 1262.23M321.87 1262.23L319.05 1245.29" fill="none" stroke="#111" stroke-width="1.4" stroke-linecap="round" stroke-linejoin="round"/><path d="M240 1289.05 L261.17 1286.23 L282.35 1289.05 L299.29 1277.76 L313.4 1266.47 L324.7 1258 L338.81 1252.35 L350.11 1258 L341.64 1269.29 L319.05 1283.4 L299.29 1297.52 L293.64 1317.28 L282.35 1337.05 L268.23 1351.16 L254.12 1365.28 L240 1372.34Z" fill="#b2cbff"/><path d="M240 1289.05L261.17 1286.23M261.17 1286.23L282.35 1289.05M282.35 1289.05L299.29 1277.76M299.29 1277.76L313.4 1266.47M313.4 1266.47L324.7 1258M324.7 1258L338.81 1252.35M338.81 1252.35L350.11 1258M350.11 1258L341.64 1269.29M341.64 1269.29L319.05 1283.4M319.05 1283.4L299.29 1297.52M299.29 1297.52L293.64 1317.28M293.64 1317.28L282.35 1337.05M282.35 1337.05L268.23 1351.16M268.23 1351.16L254.12 1365.28M254.12 1365.28L240 1372.34" fill="none" stroke="#78c878" stroke-width="3.5" stroke-linecap="round" stroke-linejoin="round"/><path d="M240 1289.05L261.17 1286.23M261.17 1286.23L282.35 1289.05M282.35 1289.05L299.29 1277.76M299.29 1277.76L313.4 1266.47M313.4 1266.47L324.7 1258M324.7 1258L338.81 1252.35M338.81 1252.35L350.11 1258M350.11 1258L341.64 1269.29M341.64 1269.29L319.05 1283.4M319.05 1283.4L299.29 1297.52M299.29 1297.52L293.64 1317.28M293.64 1317.28L282.35 1337.05M282.35 1337.05L268.23 1351.16M268.23 1351.16L254.12 1365.28M254.12 1365.28L240 1372.34" fill="none" stroke="#111" stroke-width="1.4" stroke-linecap="round" stroke-linejoin="round"/><path d="M338.81 1256.58 L352.93 1249.53 L367.05 1252.35 L381.16 1246.7 L399.51 1252.35 L399.51 1280.58 L381.16 1289.05 L375.52 1308.81 L381.16 1344.11 L367.05 1351.16 L355.75 1351.16 L350.11 1322.93 L347.28 1294.7 L352.93 1273.52 L341.64 1269.29Z" fill="#b2cbff"/><path d="M338.81 1256.58L352.93 1249.53M352.93 1249.53L367.05 1252.35M367.05 1252.35L381.16 1246.7M381.16 1246.7L399.51 1252.35M399.51 1252.35L399.51 1280.58M399.51 1280.58L381.16 1289.05M381.16 1289.05L375.52 1308.81M375.52 1308.81L381.16 1344.11M381.16 1344.11L367.05 1351.16M367.05 1351.16L355.75 1351.16M355.75 1351.16L350.11 1322.93M350.11 1322.93L347.28 1294.7M347.28 1294.7L352.93 1273.52M352.93 1273.52L341.64 1269.29M341.64 1269.29L338.81 1256.58" fill="none" stroke="#78c878" stroke-width="3.5" stroke-linecap="round" stroke-linejoin="round"/><path d="M338.81 1256.58L352.93 1249.53M352.93 1249.53L367.05 1252.35M367.05 1252.35L381.16 1246.7M381.16 1246.7L399.51 1252.35M399.51 1252.35L399.51 1280.58M399.51 1280.58L381.16 1289.05M381.16 1289.05L375.52 1308.81M375.52 1308.81L381.16 1344.11M381.16 1344.11L367.05 1351.16M367.05 1351.16L355.75 1351.16M355.75 1351.16L350.11 1322.93M350.11 1322.93L347.28 1294.7M347.28 1294.7L352.93 1273.52M352.93 1273.52L341.64 1269.29M341.64 1269.29L338.81 1256.58" fill="none" stroke="#111" stroke-width="1.4" stroke-linecap="round" stroke-linejoin="round"/><path d="M399.51 1222 L427.75 1222 L423.51 1245.29 L420.69 1266.47 L409.4 1280.58 L399.51 1280.58Z" fill="#b2cbff"/><path d="M427.75 1222L423.51 1245.29M423.51 1245.29L420.69 1266.47M420.69 1266.47L409.4 1280.58M409.4 1280.58L399.51 1280.58M399.51 1280.58L399.51 1222" fill="none" stroke="#78c878" stroke-width="3.5" stroke-linecap="round" stroke-linejoin="round"/><path d="M427.75 1222L423.51 1245.29M423.51 1245.29L420.69 1266.47M420.69 1266.47L409.4 1280.58M409.4 1280.58L399.51 1280.58M399.51 1280.58L399.51 1222" fill="none" stroke="#111" stroke-width="1.4" stroke-linecap="round" stroke-linejoin="round"/><path d="M451.74 1228.35 L465.86 1224.12 L479.98 1231.17 L490 1235.41 L490 1266.47 L465.86 1276.35 L448.92 1283.4 L444.69 1269.29 L454.57 1252.35Z" fill="#b2cbff"/><path d="M451.74 1228.35L465.86 1224.12M465.86 1224.12L479.98 1231.17M479.98 1231.17L490 1235.41M490 1266.47L465.86 1276.35M465.86 1276.35L448.92 1283.4M448.92 1283.4L444.69 1269.29M444.69 1269.29L454.57 1252.35M454.57 1252.35L451.74 1228.35" fill="none" stroke="#78c878" stroke-width="3.5" stroke-linecap="round" stroke-linejoin="round"/><path d="M451.74 1228.35L465.86 1224.12M465.86 1224.12L479.98 1231.17M479.98 1231.17L490 1235.41M490 1266.47L465.86 1276.35M465.86 1276.35L448.92 1283.4M448.92 1283.4L444.69 1269.29M444.69 1269.29L454.57 1252.35M454.57 1252.35L451.74 1228.35" fill="none" stroke="#111" stroke-width="1.4" stroke-linecap="round" stroke-linejoin="round"/><path d="M419.28 1294.7 L437.63 1286.23 L448.92 1283.4 L490 1269.29 L490 1285.52 L444.69 1308.81 L423.51 1322.93 L409.4 1329.99 L413.63 1308.81Z" fill="#b2cbff"/><path d="M419.28 1294.7L437.63 1286.23M437.63 1286.23L448.92 1283.4M448.92 1283.4L490 1269.29M490 1285.52L444.69 1308.81M444.69 1308.81L423.51 1322.93M423.51 1322.93L409.4 1329.99M409.4 1329.99L413.63 1308.81M413.63 1308.81L419.28 1294.7" fill="none" stroke="#78c878" stroke-width="3.5" stroke-linecap="round" stroke-linejoin="round"/><path d="M419.28 1294.7L437.63 1286.23M437.63 1286.23L448.92 1283.4M448.92 1283.4L490 1269.29M490 1285.52L444.69 1308.81M444.69 1308.81L423.51 1322.93M423.51 1322.93L409.4 1329.99M409.4 1329.99L413.63 1308.81M413.63 1308.81L419.28 1294.7" fill="none" stroke="#111" stroke-width="1.4" stroke-linecap="round" stroke-linejoin="round"/><path d="M275.29 1365.28 L286.58 1344.11 L304.94 1322.93 L324.7 1320.11 L338.81 1329.99 L359.99 1315.87 L374.11 1351.16 L338.81 1376.57 L310.58 1393.51 L289.41 1404.81 L282.35 1386.45Z" fill="#b2cbff"/><path d="M275.29 1365.28L286.58 1344.11M286.58 1344.11L304.94 1322.93M304.94 1322.93L324.7 1320.11M324.7 1320.11L338.81 1329.99M338.81 1329.99L359.99 1315.87M359.99 1315.87L374.11 1351.16M374.11 1351.16L338.81 1376.57M338.81 1376.57L310.58 1393.51M310.58 1393.51L289.41 1404.81M289.41 1404.81L282.35 1386.45M282.35 1386.45L275.29 1365.28" fill="none" stroke="#78c878" stroke-width="3.5" stroke-linecap="round" stroke-linejoin="round"/><path d="M275.29 1365.28L286.58 1344.11M286.58 1344.11L304.94 1322.93M304.94 1322.93L324.7 1320.11M324.7 1320.11L338.81 1329.99M338.81 1329.99L359.99 1315.87M359.99 1315.87L374.11 1351.16M374.11 1351.16L338.81 1376.57M338.81 1376.57L310.58 1393.51M310.58 1393.51L289.41 1404.81M289.41 1404.81L282.35 1386.45M282.35 1386.45L275.29 1365.28" fill="none" stroke="#111" stroke-width="1.4" stroke-linecap="round" stroke-linejoin="round"/><path d="M244.23 1396.34 L248.47 1379.4 L261.17 1375.16 L262.59 1383.63 L251.29 1397.75Z" fill="#b2cbff"/><path d="M244.23 1396.34L248.47 1379.4M248.47 1379.4L261.17 1375.16M261.17 1375.16L262.59 1383.63M262.59 1383.63L251.29 1397.75M251.29 1397.75L244.23 1396.34" fill="none" stroke="#78c878" stroke-width="3.5" stroke-linecap="round" stroke-linejoin="round"/><path d="M244.23 1396.34L248.47 1379.4M248.47 1379.4L261.17 1375.16M261.17 1375.16L262.59 1383.63M262.59 1383.63L251.29 1397.75M251.29 1397.75L244.23 1396.34" fill="none" stroke="#111" stroke-width="1.4" stroke-linecap="round" stroke-linejoin="round"/><path d="M341.64 1269.29 L352.93 1273.52 L347.28 1294.7 L350.11 1322.93 L355.75 1351.16 L367.05 1351.16 L381.16 1344.11 L375.52 1308.81 L381.16 1289.05 L367.05 1266.47Z" fill="#7cc87c" /><path d="M12.99 1397.18 L141.16 1397.18 L148.22 1414.12 L155.28 1431.06 L183.51 1428.23 L211.74 1418.35 L250 1421.17 L250 1442.35 L183.51 1478.35 L98.81 1536.93 L66.35 1559.51 L12.99 1598.33Z" fill="#b2cbff" /><path d="M12.99 1408.47 L22.59 1408.47 L28.23 1414.12 L25.41 1442.35 L12.99 1446.58Z" fill="#bababa" stroke="#78c878" stroke-width="3" stroke-linejoin="round"/><path d="M12.99 1408.47 L22.59 1408.47 L28.23 1414.12 L25.41 1442.35 L12.99 1446.58Z" fill="none" stroke="#111" stroke-width="1.4" stroke-linejoin="round"/><path d="M28.23 1479.05 L49.41 1473.4 L63.52 1479.05 L70.58 1491.76 L66.35 1512.93 L67.76 1527.05 L59.29 1541.16 L42.35 1538.34 L28.23 1524.22 L21.17 1512.93 L18.35 1498.81Z" fill="#bababa" stroke="#78c878" stroke-width="3" stroke-linejoin="round"/><path d="M28.23 1479.05 L49.41 1473.4 L63.52 1479.05 L70.58 1491.76 L66.35 1512.93 L67.76 1527.05 L59.29 1541.16 L42.35 1538.34 L28.23 1524.22 L21.17 1512.93 L18.35 1498.81Z" fill="none" stroke="#111" stroke-width="1.4" stroke-linejoin="round"/><path d="M79.05 1431.06 L90.34 1432.47 L95.99 1442.35 L87.52 1448 L79.05 1442.35Z" fill="#bababa" stroke="#78c878" stroke-width="3" stroke-linejoin="round"/><path d="M79.05 1431.06 L90.34 1432.47 L95.99 1442.35 L87.52 1448 L79.05 1442.35Z" fill="none" stroke="#111" stroke-width="1.4" stroke-linejoin="round"/><path d="M76.23 1479.05 L93.17 1473.4 L98.81 1484.7 L84.7 1495.99Z" fill="#bababa" stroke="#78c878" stroke-width="3" stroke-linejoin="round"/><path d="M76.23 1479.05 L93.17 1473.4 L98.81 1484.7 L84.7 1495.99Z" fill="none" stroke="#111" stroke-width="1.4" stroke-linejoin="round"/><path d="M107.28 1459.29 L127.05 1442.35 L127.05 1428.23 L141.16 1421.17 L155.28 1428.23 L162.34 1449.41 L148.22 1463.52 L127.05 1477.64 L112.93 1484.7Z" fill="#bababa" stroke="#78c878" stroke-width="3" stroke-linejoin="round"/><path d="M107.28 1459.29 L127.05 1442.35 L127.05 1428.23 L141.16 1421.17 L155.28 1428.23 L162.34 1449.41 L148.22 1463.52 L127.05 1477.64 L112.93 1484.7Z" fill="none" stroke="#111" stroke-width="1.4" stroke-linejoin="round"/><path d="M12.99 1562.34 L28.23 1563.75 L36.7 1576.45 L12.99 1597.63Z" fill="#bababa" stroke="#78c878" stroke-width="3" stroke-linejoin="round"/><path d="M12.99 1562.34 L28.23 1563.75 L36.7 1576.45 L12.99 1597.63Z" fill="none" stroke="#111" stroke-width="1.4" stroke-linejoin="round"/><path d="M42.35 1548.22 L56.47 1555.28 L59.29 1562.34 L46.58 1569.4Z" fill="#bababa" stroke="#78c878" stroke-width="3" stroke-linejoin="round"/><path d="M42.35 1548.22 L56.47 1555.28 L59.29 1562.34 L46.58 1569.4Z" fill="none" stroke="#111" stroke-width="1.4" stroke-linejoin="round"/><path d="M79.05 1317.28 L90.34 1320.11 L95.99 1334.22 L84.7 1351.16 L76.23 1365.28 L70.58 1351.16 L73.4 1334.22Z" fill="#3050ff" /><path d="M91.76 1317.28 L127.05 1321.52 L155.28 1334.22 L162.34 1351.16 L141.16 1365.28 L119.99 1362.46 L107.28 1351.16 L98.81 1334.22Z" fill="#3050ff" /><path d="M141.16 1277.76 L159.51 1283.4 L155.28 1308.81 L141.16 1301.76Z" fill="#3050ff" /><path d="M162.34 1301.76 L190.57 1300.34 L218.8 1305.99 L225.86 1322.93 L204.69 1337.05 L183.51 1344.11 L169.4 1337.05Z" fill="#3050ff" /><path d="M155.28 1351.16 L197.63 1358.22 L204.69 1379.4 L176.45 1386.45 L162.34 1379.4Z" fill="#3050ff" /><path d="M39.53 1386.45 L63.52 1372.34 L66.35 1393.51 L63.52 1421.74 L56.47 1442.92 L42.35 1460 L35.29 1435.86Z" fill="#3050ff" /><path d="M12.99 1358.22 L28.23 1358.22 L25.41 1379.4 L12.99 1393.51Z" fill="#3050ff" /><path d="M105.87 1379.4 L141.16 1379.4 L148.22 1400.57 L127.05 1414.69 L107.28 1407.63Z" fill="#3050ff" /><path d="M242.82 1305.99 L261.17 1300.34 L271.06 1301.76 L261.17 1317.28 L248.47 1329.99 L241.41 1331.4Z" fill="#3050ff" /><path d="M402.34 1228.35 L417.87 1226.94 L420.69 1252.35 L412.22 1270.7 L403.75 1266.47Z" fill="#3050ff" /><path d="M419.28 1297.52 L444.69 1283.4 L444.69 1308.81 L423.51 1322.93 L416.45 1315.87Z" fill="#3050ff" /><path d="M289.41 1344.11 L303.52 1337.05 L324.7 1344.11 L338.81 1351.16 L324.7 1372.34 L303.52 1386.45 L289.41 1386.45Z" fill="#3050ff" /><path d="M352.93 1287.64 L367.05 1289.05 L364.22 1308.81 L352.93 1301.76Z" fill="#3050ff" /><path d="M12.99 1453.64 L35.29 1453.64 L42.35 1463.52 L28.23 1479.05 L18.35 1491.76 L12.99 1498.81Z" fill="#3050ff" /><path d="M49.41 1449.41 L63.52 1448 L73.4 1479.05 L70.58 1505.87 L67.76 1541.16 L59.29 1555.28 L49.41 1552.46 L59.29 1541.16 L67.76 1527.05 L66.35 1512.93 L70.58 1491.76 L63.52 1479.05Z" fill="#3050ff" /><path d="M91.76 1422.59 L127.05 1428.23 L129.87 1445.17 L107.28 1459.29 L87.52 1456.47Z" fill="#3050ff" /><path d="M66.35 1559.51 L79.05 1527.05 L91.76 1498.81 L112.93 1487.52 L127.05 1479.05 L141.16 1470.58 L162.34 1463.52 L176.45 1442.35 L183.51 1428.23 L197.63 1421.17 L250 1418.35 L250 1414.12 L197.63 1415.53 L176.45 1428.23 L162.34 1453.64 L134.11 1467.76 L105.87 1479.05 L84.7 1495.99 L70.58 1527.05 L59.29 1555.28Z" fill="#3050ff" /><path d="M197.63 1222.59 L254.09 1222.59 L248.45 1245.17 L231.51 1256.47 L214.57 1264.94 L197.63 1256.47Z" fill="#bababa" stroke="#78c878" stroke-width="3" stroke-linejoin="round"/><path d="M197.63 1222.59 L254.09 1222.59 L248.45 1245.17 L231.51 1256.47 L214.57 1264.94 L197.63 1256.47Z" fill="none" stroke="#111" stroke-width="1.4" stroke-linejoin="round"/><path d="M251.27 1225.41 L282.33 1222.59 L271.03 1256.47 L254.09 1270.58 L245.62 1264.94Z" fill="#4070ff" /><path d="M254.09 1321.4 L271.03 1318.58 L282.33 1335.52 L271.03 1349.63 L256.92 1343.99Z" fill="#7cc87c" /><path d="M265.39 1304.46 L282.33 1301.64 L279.5 1318.58 L268.21 1318.58Z" fill="#3050ff" /><path d="M87.52 1321.52 L93.17 1320.11 L98.81 1334.22 L107.28 1337.05 L107.28 1351.16 L101.64 1365.28 L98.81 1372.34 L104.46 1379.4 L95.99 1390.69 L97.4 1406.22 L79.05 1416.1 L73.4 1435.86 L69.17 1460 L62.11 1460 L64.94 1421.74 L63.52 1393.51 L70.58 1379.4 L79.05 1362.46 L84.7 1351.16 L90.34 1337.05Z" fill="#ffd800"/><path d="M87.52 1321.52L93.17 1320.11M93.17 1320.11L98.81 1334.22M98.81 1334.22L107.28 1337.05M107.28 1337.05L107.28 1351.16M107.28 1351.16L101.64 1365.28M101.64 1365.28L98.81 1372.34M98.81 1372.34L104.46 1379.4M104.46 1379.4L95.99 1390.69M95.99 1390.69L97.4 1406.22M97.4 1406.22L79.05 1416.1M79.05 1416.1L73.4 1435.86M73.4 1435.86L69.17 1460M62.11 1460L64.94 1421.74M64.94 1421.74L63.52 1393.51M63.52 1393.51L70.58 1379.4M70.58 1379.4L79.05 1362.46M79.05 1362.46L84.7 1351.16M84.7 1351.16L90.34 1337.05M90.34 1337.05L87.52 1321.52" fill="none" stroke="#111" stroke-width="1.1" stroke-linecap="round"/><path d="M90.34 1344.11 L101.64 1348.34 L98.81 1365.28 L91.76 1386.45 L79.05 1407.63 L70.58 1414.69 L67.76 1393.51 L79.05 1372.34 L84.7 1358.22Z" fill="#ff8c00" /><path d="M77.64 1389.28 L87.52 1390.69 L91.76 1404.81 L81.87 1406.22Z" fill="#d42010"/><path d="M77.64 1389.28L87.52 1390.69M87.52 1390.69L91.76 1404.81M91.76 1404.81L81.87 1406.22M81.87 1406.22L77.64 1389.28" fill="none" stroke="#111" stroke-width="1.1" stroke-linecap="round"/><path d="M115.75 1358.22 L127.05 1337.05 L138.34 1332.81 L149.63 1334.22 L158.1 1344.11 L152.46 1351.16 L143.99 1353.99 L146.81 1362.46 L166.57 1365.28 L173.63 1370.93 L162.34 1379.4 L151.04 1376.57 L141.16 1368.1 L124.22 1368.1 L117.17 1365.28Z" fill="#ffd800"/><path d="M115.75 1358.22L127.05 1337.05M127.05 1337.05L138.34 1332.81M138.34 1332.81L149.63 1334.22M149.63 1334.22L158.1 1344.11M158.1 1344.11L152.46 1351.16M152.46 1351.16L143.99 1353.99M143.99 1353.99L146.81 1362.46M146.81 1362.46L166.57 1365.28M166.57 1365.28L173.63 1370.93M173.63 1370.93L162.34 1379.4M162.34 1379.4L151.04 1376.57M151.04 1376.57L141.16 1368.1M141.16 1368.1L124.22 1368.1M124.22 1368.1L117.17 1365.28M117.17 1365.28L115.75 1358.22" fill="none" stroke="#111" stroke-width="1.1" stroke-linecap="round"/><path d="M119.99 1362.46 L134.11 1344.11 L146.81 1339.87 L149.63 1351.16 L134.11 1362.46Z" fill="#ff8c00" /><path d="M143.99 1342.69 L155.28 1342.69 L155.28 1351.16 L145.4 1351.16Z" fill="#d42010"/><path d="M143.99 1342.69L155.28 1342.69M155.28 1342.69L155.28 1351.16M155.28 1351.16L145.4 1351.16M145.4 1351.16L143.99 1342.69" fill="none" stroke="#111" stroke-width="1.1" stroke-linecap="round"/><path d="M149.63 1366.69 L160.93 1366.69 L160.93 1375.16 L149.63 1375.16Z" fill="#d42010" stroke="#111" stroke-width="1"/><path d="M90.34 1373.75 L97.4 1373.75 L97.4 1380.81 L90.34 1380.81Z" fill="#d42010" /><path d="M444.69 1283.4 L458.8 1279.17 L472.92 1269.29 L490 1256.58 L490 1285.52 L444.69 1308.81Z" fill="#ffd800"/><path d="M444.69 1283.4L458.8 1279.17M458.8 1279.17L472.92 1269.29M472.92 1269.29L490 1256.58M490 1285.52L444.69 1308.81M444.69 1308.81L444.69 1283.4" fill="none" stroke="#111" stroke-width="1.1" stroke-linecap="round"/><path d="M458.8 1281.99 L468.68 1280.58 L477.15 1289.05 L465.86 1297.52 L461.63 1294.7Z" fill="#d42010"/><path d="M458.8 1281.99L468.68 1280.58M468.68 1280.58L477.15 1289.05M477.15 1289.05L465.86 1297.52M465.86 1297.52L461.63 1294.7M461.63 1294.7L458.8 1281.99" fill="none" stroke="#111" stroke-width="1.1" stroke-linecap="round"/><path d="M448.92 1284.82 L460.21 1280.58 L474.33 1272.11 L490 1260.82 L490 1285.52 L446.1 1307.4Z" fill="#ff8c00" /><path d="M458.8 1281.99 L468.68 1280.58 L477.15 1289.05 L465.86 1297.52 L461.63 1294.7Z" fill="#d42010" stroke="#111" stroke-width="1"/><path d="M286.58 1404.81 L288 1372.34 L296.47 1353.99 L306.35 1345.52 L304.94 1322.93 L319.05 1320.11 L323.29 1337.05 L313.4 1351.16 L300.7 1365.28 L296.47 1393.51 L293.64 1401.98Z" fill="#ffd800"/><path d="M286.58 1404.81L288 1372.34M288 1372.34L296.47 1353.99M296.47 1353.99L306.35 1345.52M306.35 1345.52L304.94 1322.93M304.94 1322.93L319.05 1320.11M319.05 1320.11L323.29 1337.05M323.29 1337.05L313.4 1351.16M313.4 1351.16L300.7 1365.28M300.7 1365.28L296.47 1393.51M296.47 1393.51L293.64 1401.98M293.64 1401.98L286.58 1404.81" fill="none" stroke="#111" stroke-width="1.1" stroke-linecap="round"/><path d="M289.41 1400.57 L290.82 1372.34 L299.29 1356.81 L307.76 1349.75 L310.58 1351.16 L299.29 1368.1 L295.05 1397.75Z" fill="#ff8c00" /><path d="M304.94 1327.17 L313.4 1322.93 L323.29 1331.4 L321.87 1349.75 L313.4 1351.16 L306.35 1344.11Z" fill="#d42010"/><path d="M304.94 1327.17L313.4 1322.93M313.4 1322.93L323.29 1331.4M323.29 1331.4L321.87 1349.75M321.87 1349.75L313.4 1351.16M313.4 1351.16L306.35 1344.11M306.35 1344.11L304.94 1327.17" fill="none" stroke="#111" stroke-width="1.1" stroke-linecap="round"/><path d="M335.99 1376.57 L338.81 1358.22 L347.28 1344.11 L341.64 1337.05 L350.11 1322.93 L352.93 1310.23 L357.17 1322.93 L355.75 1344.11 L357.17 1351.16 L374.11 1353.99 L352.93 1365.28Z" fill="#ffd800"/><path d="M335.99 1376.57L338.81 1358.22M338.81 1358.22L347.28 1344.11M347.28 1344.11L341.64 1337.05M341.64 1337.05L350.11 1322.93M350.11 1322.93L352.93 1310.23M352.93 1310.23L357.17 1322.93M357.17 1322.93L355.75 1344.11M355.75 1344.11L357.17 1351.16M357.17 1351.16L374.11 1353.99M374.11 1353.99L352.93 1365.28M352.93 1365.28L335.99 1376.57" fill="none" stroke="#111" stroke-width="1.1" stroke-linecap="round"/><path d="M338.81 1373.75 L341.64 1358.22 L351.52 1345.52 L347.28 1337.05 L352.93 1320.11 L354.34 1345.52 L367.05 1355.4 L351.52 1363.87Z" fill="#ff8c00" /><path d="M12.99 1521.4 L21.17 1527.05 L22.59 1548.22 L15.53 1569.4 L12.99 1570.81Z" fill="#ffd800"/><path d="M12.99 1521.4L21.17 1527.05M21.17 1527.05L22.59 1548.22M22.59 1548.22L15.53 1569.4M15.53 1569.4L12.99 1570.81M12.99 1570.81L12.99 1521.4" fill="none" stroke="#111" stroke-width="1.1" stroke-linecap="round"/><path d="M12.99 1527.05 L18.35 1531.28 L19.76 1548.22 L12.99 1562.34Z" fill="#ff8c00" /><path d="M12.99 1534.11 L16.94 1538.34 L16.94 1552.46 L12.99 1558.1Z" fill="#d42010"/><path d="M12.99 1534.11L16.94 1538.34M16.94 1538.34L16.94 1552.46M16.94 1552.46L12.99 1558.1M12.99 1558.1L12.99 1534.11" fill="none" stroke="#111" stroke-width="1.1" stroke-linecap="round"/><path d="M28.23 1528.46 L38.11 1527.05 L42.35 1538.34 L33.88 1542.57 L28.23 1536.93Z" fill="#ffd800"/><path d="M28.23 1528.46L38.11 1527.05M38.11 1527.05L42.35 1538.34M42.35 1538.34L33.88 1542.57M33.88 1542.57L28.23 1536.93M28.23 1536.93L28.23 1528.46" fill="none" stroke="#111" stroke-width="1.1" stroke-linecap="round"/><path d="M29.64 1531.28 L38.11 1529.87 L39.53 1538.34 L33.88 1541.16Z" fill="#ff8c00" /><path d="M31.06 1532.69 L36.7 1531.99 L37.41 1537.63 L33.17 1539.75Z" fill="#d42010"/><path d="M31.06 1532.69L36.7 1531.99M36.7 1531.99L37.41 1537.63M37.41 1537.63L33.17 1539.75M33.17 1539.75L31.06 1532.69" fill="none" stroke="#111" stroke-width="1.1" stroke-linecap="round"/><path d="M55.05 1421.17 L64.94 1419.76 L69.17 1428.23 L63.52 1433.88 L53.64 1428.23Z" fill="#ffd800"/><path d="M55.05 1421.17L64.94 1419.76M64.94 1419.76L69.17 1428.23M69.17 1428.23L63.52 1433.88M63.52 1433.88L53.64 1428.23M53.64 1428.23L55.05 1421.17" fill="none" stroke="#111" stroke-width="1.1" stroke-linecap="round"/><path d="M56.47 1422.59 L63.52 1421.17 L66.35 1428.23 L62.11 1432.47Z" fill="#ff8c00" /><path d="M62.11 1400 L98.81 1400 L97.4 1414.12 L79.05 1422.59 L70.58 1442.35 L76.23 1463.52 L84.7 1476.23 L70.58 1479.05 L60.7 1463.52 L59.29 1442.35 L64.94 1421.17Z" fill="#ffd800"/><path d="M98.81 1400L97.4 1414.12M97.4 1414.12L79.05 1422.59M79.05 1422.59L70.58 1442.35M70.58 1442.35L76.23 1463.52M76.23 1463.52L84.7 1476.23M84.7 1476.23L70.58 1479.05M70.58 1479.05L60.7 1463.52M60.7 1463.52L59.29 1442.35M59.29 1442.35L64.94 1421.17M64.94 1421.17L62.11 1400" fill="none" stroke="#111" stroke-width="1.1" stroke-linecap="round"/><path d="M70.58 1400 L91.76 1400 L90.34 1411.29 L76.23 1421.17 L66.35 1442.35 L70.58 1459.29 L66.35 1463.52 L63.52 1442.35 L67.76 1421.17Z" fill="#ff8c00" /><path d="M93.17 1425.41 L104.46 1424 L107.28 1439.53 L98.81 1442.35Z" fill="#ffd800"/><path d="M93.17 1425.41L104.46 1424M104.46 1424L107.28 1439.53M107.28 1439.53L98.81 1442.35M98.81 1442.35L93.17 1425.41" fill="none" stroke="#111" stroke-width="1.1" stroke-linecap="round"/><path d="M98.81 1426.82 L103.05 1426.82 L103.75 1431.06 L99.52 1431.76Z" fill="#d42010"/><path d="M98.81 1426.82L103.05 1426.82M103.05 1426.82L103.75 1431.06M103.75 1431.06L99.52 1431.76M99.52 1431.76L98.81 1426.82" fill="none" stroke="#111" stroke-width="1.1" stroke-linecap="round"/><path d="M90.34 1446.58 L104.46 1446.58 L107.28 1453.64 L93.17 1453.64Z" fill="#ffd800"/><path d="M90.34 1446.58L104.46 1446.58M104.46 1446.58L107.28 1453.64M107.28 1453.64L93.17 1453.64M93.17 1453.64L90.34 1446.58" fill="none" stroke="#111" stroke-width="1.1" stroke-linecap="round"/><path d="M67.76 1555.28 L79.05 1527.05 L91.76 1498.81 L112.93 1487.52 L127.05 1479.05 L141.16 1470.58 L162.34 1463.52 L176.45 1442.35 L183.51 1422.59 L197.63 1415.53 L250 1414.12 L250 1434.58 L183.51 1478.35 L98.81 1536.93 L66.35 1559.51Z" fill="#ffd800"/><path d="M67.76 1555.28L79.05 1527.05M79.05 1527.05L91.76 1498.81M91.76 1498.81L112.93 1487.52M112.93 1487.52L127.05 1479.05M127.05 1479.05L141.16 1470.58M141.16 1470.58L162.34 1463.52M162.34 1463.52L176.45 1442.35M176.45 1442.35L183.51 1422.59M183.51 1422.59L197.63 1415.53M197.63 1415.53L250 1414.12M250 1434.58L183.51 1478.35M183.51 1478.35L98.81 1536.93M98.81 1536.93L66.35 1559.51M66.35 1559.51L67.76 1555.28" fill="none" stroke="#111" stroke-width="1.1" stroke-linecap="round"/><path d="M79.05 1548.22 L90.34 1519.99 L98.81 1498.81 L119.99 1491.76 L141.16 1477.64 L162.34 1470.58 L176.45 1453.64 L190.57 1432.47 L211.74 1425.41 L250 1424 L250 1434.58 L183.51 1478.35 L98.81 1536.93Z" fill="#ff8c00" /><path d="M95.99 1535.52 L95.99 1512.93 L105.87 1503.05 L115.75 1504.46 L119.99 1512.93 L138.34 1487.52 L155.28 1473.4 L169.4 1467.76 L183.51 1449.41 L194.81 1435.29 L204.69 1432.47 L218.8 1431.06 L250 1426.82 L250 1434.58 L183.51 1478.35 L98.81 1536.93Z" fill="#d42010"/><path d="M95.99 1535.52L95.99 1512.93M95.99 1512.93L105.87 1503.05M105.87 1503.05L115.75 1504.46M115.75 1504.46L119.99 1512.93M119.99 1512.93L138.34 1487.52M138.34 1487.52L155.28 1473.4M155.28 1473.4L169.4 1467.76M169.4 1467.76L183.51 1449.41M183.51 1449.41L194.81 1435.29M194.81 1435.29L204.69 1432.47M204.69 1432.47L218.8 1431.06M218.8 1431.06L250 1426.82M250 1434.58L183.51 1478.35M183.51 1478.35L98.81 1536.93M98.81 1536.93L95.99 1535.52" fill="none" stroke="#111" stroke-width="1.1" stroke-linecap="round"/></g><path d="M97.4 1538.3L486 1587.5" stroke="#c8c8c8" stroke-width="1.5" fill="none"/><path d="M155.52 72.19 L167.38 64.56 L179.24 63.72 L175.85 67.95 L167.38 70.49 L166.53 77.27 L168.23 82.35 L163.15 83.71 L158.06 78.12Z" fill="#60b0ff" /><path d="M182.63 79.81 L187.71 76.42 L194.49 75.58 L192.79 80.66 L186.02 81.5Z" fill="#80c880" /><path d="M194.49 69.65 L202.96 67.1 L219.9 64.56 L224.98 62.87 L221.59 72.19 L211.43 72.19 L199.57 73.03Z" fill="#88cc88" /><path d="M163.15 123.01 L167.38 120.98 L168.74 124.7 L164.84 125.55Z" fill="#80c0ff" /><path d="M175.85 128.09 L180.09 119.62 L187.71 123.01 L186.02 128.94 L179.24 129.78Z" fill="#90c890" /><path d="M176.7 143.68 L184.32 139.95 L186.86 134.87 L191.95 137.92 L191.1 141.64 L182.63 143.68Z" fill="#7cc8a0" /><path d="M138.58 178.91 L141.97 171.29 L152.98 169.6 L153.83 173.83 L149.59 180.61 L145.36 182.3Z" fill="#5080e0" /><path d="M143.33 189.92 L145.02 182.64 L149.09 183.66 L152.98 187.04 L147.05 191.11Z" fill="#80a0c0" /><path d="M57.78 244.13 L60.99 241.59 L65.74 242.95 L66.08 247.01 L62.69 249.22 L58.62 247.52Z" fill="#90a080" /><circle cx="147.05" cy="176.09" r="2.5" fill="#ffd000"/><circle cx="147.49" cy="186.87" r="2.5" fill="#ffd000"/><circle cx="61.98" cy="245.4" r="2.5" fill="#ffd000"/><circle cx="120.79" cy="100.14" r="1.1" fill="#2040ff"/><circle cx="84.37" cy="232.78" r="1.1" fill="#2040ff"/><circle cx="53.03" cy="233.12" r="1.1" fill="#2040ff"/><circle cx="14.92" cy="263.62" r="1.1" fill="#2040ff"/><circle cx="48.8" cy="255.14" r="1.1" fill="#2040ff"/><circle cx="98.77" cy="216.18" r="1.1" fill="#2040ff"/><path d="M745.86 72.19 L757.71 64.56 L769.57 63.72 L766.18 67.95 L757.71 70.49 L756.87 77.27 L758.56 82.35 L753.48 83.71 L748.4 78.12Z" fill="#4a7cff" stroke="#000" stroke-width="1" stroke-linejoin="round"/><path d="M772.96 79.81 L778.04 76.42 L784.82 75.58 L783.13 80.66 L776.35 81.5Z" fill="#4a7cff" stroke="#000" stroke-width="1" stroke-linejoin="round"/><path d="M784.82 69.65 L793.29 67.1 L810.23 64.56 L815.31 62.87 L811.92 72.19 L801.76 72.19 L789.9 73.03Z" fill="#6090ff" stroke="#000" stroke-width="1" stroke-linejoin="round"/><path d="M753.48 123.01 L757.71 120.98 L759.07 124.7 L755.17 125.55Z" fill="#4a7cff" stroke="#000" stroke-width="1" stroke-linejoin="round"/><path d="M766.18 128.09 L770.42 119.62 L778.04 123.01 L776.35 128.94 L769.57 129.78Z" fill="#4a7cff" stroke="#000" stroke-width="1" stroke-linejoin="round"/><path d="M767.03 143.68 L774.66 139.95 L777.2 134.87 L782.28 137.92 L781.43 141.64 L772.96 143.68Z" fill="#4a7cff" stroke="#000" stroke-width="1" stroke-linejoin="round"/><path d="M728.92 178.91 L732.3 171.29 L743.32 169.6 L744.16 173.83 L739.93 180.61 L735.69 182.3Z" fill="#ffa020" stroke="#000" stroke-width="1" stroke-linejoin="round"/><path d="M733.66 189.92 L735.35 182.64 L739.42 183.66 L743.32 187.04 L737.39 191.11Z" fill="#ffa020" stroke="#000" stroke-width="1" stroke-linejoin="round"/><path d="M648.11 244.13 L651.33 241.59 L656.07 242.95 L656.41 247.01 L653.02 249.22 L648.96 247.52Z" fill="#ffd000" stroke="#000" stroke-width="1" stroke-linejoin="round"/><circle cx="737.39" cy="176.09" r="2.5" fill="#3060ff"/><circle cx="711.13" cy="100.14" r="1.1" fill="#2040ff"/><circle cx="674.71" cy="232.78" r="1.1" fill="#2040ff"/><circle cx="643.37" cy="233.12" r="1.1" fill="#2040ff"/><circle cx="605.25" cy="263.62" r="1.1" fill="#2040ff"/><circle cx="639.13" cy="255.14" r="1.1" fill="#2040ff"/><circle cx="689.11" cy="216.18" r="1.1" fill="#2040ff"/><path d="M1336.19 72.19 L1348.05 64.56 L1359.91 63.72 L1356.52 67.95 L1348.05 70.49 L1347.2 77.27 L1348.9 82.35 L1343.81 83.71 L1338.73 78.12Z" fill="#80dd80" stroke="#000" stroke-width="1" stroke-linejoin="round"/><path d="M1363.29 79.81 L1368.38 76.42 L1375.15 75.58 L1373.46 80.66 L1366.68 81.5Z" fill="#80dd80" stroke="#000" stroke-width="1" stroke-linejoin="round"/><path d="M1375.15 69.65 L1383.62 67.1 L1400.56 64.56 L1405.65 62.87 L1402.26 72.19 L1392.09 72.19 L1380.24 73.03Z" fill="#80dd80" stroke="#000" stroke-width="1" stroke-linejoin="round"/><path d="M1343.81 123.01 L1348.05 120.98 L1349.4 124.7 L1345.51 125.55Z" fill="#222" stroke="#000" stroke-width="1" stroke-linejoin="round"/><path d="M1357.37 143.68 L1364.99 139.95 L1367.53 134.87 L1372.61 137.92 L1371.76 141.64 L1363.29 143.68Z" fill="#80dd80" stroke="#000" stroke-width="1" stroke-linejoin="round"/><path d="M1319.25 178.91 L1322.64 171.29 L1333.65 169.6 L1334.5 173.83 L1330.26 180.61 L1326.03 182.3Z" fill="#80dd80" stroke="#000" stroke-width="1" stroke-linejoin="round"/><path d="M1323.99 189.92 L1325.69 182.64 L1329.75 183.66 L1333.65 187.04 L1327.72 191.11Z" fill="#80dd80" stroke="#000" stroke-width="1" stroke-linejoin="round"/><path d="M1238.44 244.13 L1241.66 241.59 L1246.4 242.95 L1246.74 247.01 L1243.36 249.22 L1239.29 247.52Z" fill="#80dd80" stroke="#000" stroke-width="1" stroke-linejoin="round"/><circle cx="1301.46" cy="100.14" r="1.1" fill="#000"/><circle cx="1265.04" cy="232.78" r="1.1" fill="#000"/><circle cx="1233.7" cy="233.12" r="1.1" fill="#000"/><circle cx="1195.58" cy="263.62" r="1.1" fill="#000"/><circle cx="1229.46" cy="255.14" r="1.1" fill="#000"/><circle cx="1279.44" cy="216.18" r="1.1" fill="#000"/><path d="M745.86 1252.85 L757.71 1245.23 L769.57 1244.38 L766.18 1248.62 L757.71 1251.16 L756.87 1257.94 L758.56 1263.02 L753.48 1264.37 L748.4 1258.78Z" fill="#0020ff" /><path d="M772.96 1260.48 L778.04 1257.09 L784.82 1256.24 L783.13 1261.32 L776.35 1262.17Z" fill="#0020ff" /><path d="M784.82 1250.31 L793.29 1247.77 L810.23 1245.23 L815.31 1243.54 L811.92 1252.85 L801.76 1252.85 L789.9 1253.7Z" fill="#0020ff" /><path d="M753.48 1303.68 L757.71 1301.64 L759.07 1305.37 L755.17 1306.22Z" fill="#0020ff" /><path d="M766.18 1308.76 L770.42 1300.29 L778.04 1303.68 L776.35 1309.6 L769.57 1310.45Z" fill="#0020ff" /><path d="M767.03 1324.34 L774.66 1320.62 L777.2 1315.53 L782.28 1318.58 L781.43 1322.31 L772.96 1324.34Z" fill="#0020ff" /><path d="M728.92 1359.58 L732.3 1351.96 L743.32 1350.26 L744.16 1354.5 L739.93 1361.27 L735.69 1362.97Z" fill="#ff4400" /><path d="M733.66 1370.59 L735.35 1363.31 L739.42 1364.32 L743.32 1367.71 L737.39 1371.78Z" fill="#ff4400" /><path d="M648.11 1424.8 L651.33 1422.26 L656.07 1423.61 L656.41 1427.68 L653.02 1429.88 L648.96 1428.19Z" fill="#ff4400" /><circle cx="737.39" cy="1356.76" r="2.5" fill="#0020ff"/><circle cx="711.13" cy="1280.81" r="1.1" fill="#ff4400"/><circle cx="674.71" cy="1413.45" r="1.1" fill="#ff4400"/><circle cx="643.37" cy="1413.79" r="1.1" fill="#ff4400"/><circle cx="605.25" cy="1444.28" r="1.1" fill="#ff4400"/><circle cx="639.13" cy="1435.81" r="1.1" fill="#ff4400"/><circle cx="689.11" cy="1396.85" r="1.1" fill="#ff4400"/><path d="M1336.19 1252.85 L1348.05 1245.23 L1359.91 1244.38 L1356.52 1248.62 L1348.05 1251.16 L1347.2 1257.94 L1348.9 1263.02 L1343.81 1264.37 L1338.73 1258.78Z" fill="#a0d0a0" /><path d="M1363.29 1260.48 L1368.38 1257.09 L1375.15 1256.24 L1373.46 1261.32 L1366.68 1262.17Z" fill="#a8c8a8" /><path d="M1375.15 1250.31 L1383.62 1247.77 L1400.56 1245.23 L1405.65 1243.54 L1402.26 1252.85 L1392.09 1252.85 L1380.24 1253.7Z" fill="#b0d0b0" /><path d="M1343.81 1303.68 L1348.05 1301.64 L1349.4 1305.37 L1345.51 1306.22Z" fill="#b0b0b0" /><path d="M1356.52 1308.76 L1360.75 1300.29 L1368.38 1303.68 L1366.68 1309.6 L1359.91 1310.45Z" fill="#a0c8a0" /><path d="M1357.37 1324.34 L1364.99 1320.62 L1367.53 1315.53 L1372.61 1318.58 L1371.76 1322.31 L1363.29 1324.34Z" fill="#90b8c0" /><path d="M1319.25 1359.58 L1322.64 1351.96 L1333.65 1350.26 L1334.5 1354.5 L1330.26 1361.27 L1326.03 1362.97Z" fill="#a8c8a8" /><path d="M1323.99 1370.59 L1325.69 1363.31 L1329.75 1364.32 L1333.65 1367.71 L1327.72 1371.78Z" fill="#80c0a0" /><path d="M1238.44 1424.8 L1241.66 1422.26 L1246.4 1423.61 L1246.74 1427.68 L1243.36 1429.88 L1239.29 1428.19Z" fill="#80c8a0" /><circle cx="1301.46" cy="1280.81" r="1.1" fill="#999"/><circle cx="1265.04" cy="1413.45" r="1.1" fill="#999"/><circle cx="1233.7" cy="1413.79" r="1.1" fill="#999"/><circle cx="1195.58" cy="1444.28" r="1.1" fill="#999"/><circle cx="1229.46" cy="1435.81" r="1.1" fill="#999"/><circle cx="1279.44" cy="1396.85" r="1.1" fill="#999"/><path d="M1226.17 687.88 L1236.05 675.17 L1241.7 679.41 L1240.29 687.88 L1271.34 689.29 L1276.99 693.52 L1254.4 696.35 L1248.76 704.82 L1237.47 700.58Z" fill="#80dc80" stroke="#000" stroke-width="1.4" stroke-linejoin="round"/><path d="M1281.23 668.11 L1288.28 662.47 L1299.58 658.23 L1293.93 665.29 L1284.05 669.53Z" fill="#80dc80" stroke="#000" stroke-width="1.4" stroke-linejoin="round"/><path d="M1333.46 663.88 L1347.57 655.41 L1356.04 658.23 L1344.75 666.7 L1343.34 673.76 L1336.28 673.76Z" fill="#80dc80" stroke="#000" stroke-width="1.4" stroke-linejoin="round"/><path d="M1360.28 669.53 L1370.16 665.29 L1372.98 669.53 L1364.51 673.76Z" fill="#80dc80" stroke="#000" stroke-width="1.4" stroke-linejoin="round"/><path d="M1381.45 661.06 L1395.57 658.23 L1389.92 663.88Z" fill="#80dc80" stroke="#000" stroke-width="1.4" stroke-linejoin="round"/><path d="M1351.81 714.7 L1360.28 711.87 L1358.87 720.34 L1353.22 720.34Z" fill="#80dc80" stroke="#000" stroke-width="1.4" stroke-linejoin="round"/><path d="M1364.51 727.4 L1378.63 724.58 L1382.86 730.23 L1375.81 733.05 L1365.92 731.64Z" fill="#80dc80" stroke="#000" stroke-width="1.4" stroke-linejoin="round"/><path d="M1385.69 741.52 L1394.16 738.7 L1391.33 745.75Z" fill="#80dc80" stroke="#000" stroke-width="1.4" stroke-linejoin="round"/><path d="M1313.69 765.52 L1323.57 762.69 L1330.63 773.99 L1337.69 776.81 L1333.46 785.28 L1324.99 786.69 L1316.52 779.63Z" fill="#80dc80" stroke="#000" stroke-width="1.4" stroke-linejoin="round"/><path d="M1343.34 776.81 L1350.4 772.57 L1360.28 773.99 L1361.69 782.46 L1347.57 785.28Z" fill="#80dc80" stroke="#000" stroke-width="1.4" stroke-linejoin="round"/><path d="M1500.03 805.04 L1508.5 797.98 L1518.38 795.16 L1511.32 802.22 L1502.85 807.87Z" fill="#80dc80" stroke="#000" stroke-width="1.4" stroke-linejoin="round"/><path d="M1594.61 742.93 L1598.84 731.64 L1612.96 723.17 L1615.78 734.46 L1601.67 744.34Z" fill="#80dc80" stroke="#000" stroke-width="1.4" stroke-linejoin="round"/><path d="M1618.61 714.7 L1644.02 697.76 L1660.95 709.05 L1632.72 725.99 L1624.25 728.81Z" fill="#80dc80" stroke="#000" stroke-width="1.4" stroke-linejoin="round"/><path d="M1229 847.39 L1234.64 834.69 L1248.76 837.51 L1243.11 841.74 L1231.82 853.04Z" fill="#80dc80" stroke="#000" stroke-width="1.4" stroke-linejoin="round"/><path d="M1255.82 831.86 L1261.46 826.22 L1264.29 834.69 L1258.64 836.1Z" fill="#80dc80" stroke="#000" stroke-width="1.4" stroke-linejoin="round"/><path d="M1237.47 864.33 L1247.35 861.51 L1250.17 869.98 L1244.52 871.39Z" fill="#80dc80" stroke="#000" stroke-width="1.4" stroke-linejoin="round"/><path d="M1248.76 871.39 L1265.7 864.33 L1274.17 872.8 L1265.7 881.27 L1251.58 878.45Z" fill="#80dc80" stroke="#000" stroke-width="1.4" stroke-linejoin="round"/><path d="M1316.52 889.74 L1330.63 878.45 L1344.75 872.8 L1356.04 881.27 L1350.4 889.74 L1333.46 886.92 L1322.16 892.56Z" fill="#80dc80" stroke="#000" stroke-width="1.4" stroke-linejoin="round"/><path d="M1367.34 895.39 L1378.63 875.62 L1389.92 864.33 L1404.04 841.74 L1411.1 847.39 L1404.04 869.98 L1389.92 878.45 L1372.98 895.39Z" fill="#80dc80" stroke="#000" stroke-width="1.4" stroke-linejoin="round"/><path d="M1265.7 951.85 L1282.64 932.09 L1285.46 915.15 L1302.4 915.15 L1333.46 909.5 L1356.04 905.27 L1339.1 920.8 L1299.58 940.56 L1276.99 957.5Z" fill="#80dc80" stroke="#000" stroke-width="1.4" stroke-linejoin="round"/><path d="M1195.12 920.8 L1197.94 909.5 L1212.06 906.68 L1226.17 903.86 L1227.58 912.33 L1217.7 919.38 L1206.41 915.15Z" fill="#80dc80" stroke="#000" stroke-width="1.4" stroke-linejoin="round"/><path d="M1207.82 951.85 L1217.7 941.97 L1220.53 949.03 L1212.06 954.68Z" fill="#80dc80" stroke="#000" stroke-width="1.4" stroke-linejoin="round"/><path d="M1205 881.27 L1209.23 875.06 L1212.06 882.68Z" fill="#80dc80" stroke="#000" stroke-width="1.4" stroke-linejoin="round"/><path d="M1217.7 884.09 L1226.17 881.27 L1227.58 885.51 L1220.53 886.92Z" fill="#80dc80" stroke="#000" stroke-width="1.4" stroke-linejoin="round"/><path d="M1293.93 885.51 L1302.4 882.68 L1299.58 888.33Z" fill="#80dc80" stroke="#000" stroke-width="1.4" stroke-linejoin="round"/><path d="M1299.58 909.5 L1306.64 903.86 L1308.05 908.09Z" fill="#80dc80" stroke="#000" stroke-width="1.4" stroke-linejoin="round"/><path d="M1285.46 929.27 L1308.05 920.8 L1333.46 915.15 L1322.16 929.27 L1293.93 943.38Z" fill="#70a8ff" /><path d="M1624.25 714.7 L1644.02 706.23 L1638.37 717.52 L1627.08 720.34Z" fill="#80b8ff" /><path d="M1480.27 755.64 L1488.74 751.96 L1491.56 759.87 L1484.5 768.34Z" fill="#222" /><path d="M1326.4 765.52 L1334.87 768.34 L1339.1 775.4 L1329.22 785.28Z" fill="#222" /><path d="M1545.2 781.04 L1557.91 771.16" stroke="#50a0ff" stroke-width="2" fill="none"/><path d="M603.3 1036.7L1076.3 1083.3" stroke="#3070ff" stroke-width="1.1" fill="none"/><path d="M1194 1037.7L1667 1086" stroke="#70d070" stroke-width="1.2" fill="none"/>
<g transform="translate(0 0)"><use href="#grid"/><use href="#swath"/><use href="#coast"/><use href="#ll"/><use href="#cross"/><text x="36.7" y="66.3" font-size="25" text-anchor="start" >PR near surface reflectivity (dBZ)</text><text x="438.5" y="522.3" font-size="30.5" text-anchor="start" >(a)</text><rect x="495.0" y="539.94" width="8.85" height="8.76" fill="#ffffff"/><rect x="495.0" y="531.48" width="8.85" height="8.76" fill="#f6f6f6"/><rect x="495.0" y="523.02" width="8.85" height="8.76" fill="#eeeeee"/><rect x="495.0" y="514.57" width="8.85" height="8.76" fill="#e6e6e6"/><rect x="495.0" y="506.11" width="8.85" height="8.76" fill="#dedede"/><rect x="495.0" y="497.65" width="8.85" height="8.76" fill="#d6d6d6"/><rect x="495.0" y="489.19" width="8.85" height="8.76" fill="#cecece"/><rect x="495.0" y="480.73" width="8.85" height="8.76" fill="#c6c6c6"/><rect x="495.0" y="472.27" width="8.85" height="8.76" fill="#bebebe"/><rect x="495.0" y="463.82" width="8.85" height="8.76" fill="#b6b6b6"/><rect x="495.0" y="455.36" width="8.85" height="8.76" fill="#aeaeae"/><rect x="495.0" y="446.9" width="8.85" height="8.76" fill="#a6a6a6"/><rect x="495.0" y="438.44" width="8.85" height="8.76" fill="#9e9e9e"/><rect x="495.0" y="429.98" width="8.85" height="8.76" fill="#969696"/><rect x="495.0" y="421.52" width="8.85" height="8.76" fill="#8e8e8e"/><rect x="495.0" y="413.07" width="8.85" height="8.76" fill="#7ddd7d"/><rect x="495.0" y="404.61" width="8.85" height="8.76" fill="#76d276"/><rect x="495.0" y="396.15" width="8.85" height="8.76" fill="#70c870"/><rect x="495.0" y="387.69" width="8.85" height="8.76" fill="#6abf6a"/><rect x="495.0" y="379.23" width="8.85" height="8.76" fill="#66b866"/><rect x="495.0" y="370.77" width="8.85" height="8.76" fill="#d0d4ff"/><rect x="495.0" y="362.32" width="8.85" height="8.76" fill="#b0ccff"/><rect x="495.0" y="353.86" width="8.85" height="8.76" fill="#98c4ff"/><rect x="495.0" y="345.4" width="8.85" height="8.76" fill="#80baff"/><rect x="495.0" y="336.94" width="8.85" height="8.76" fill="#68b0ff"/><rect x="495.0" y="328.48" width="8.85" height="8.76" fill="#50a8ff"/><rect x="495.0" y="320.02" width="8.85" height="8.76" fill="#4888ff"/><rect x="495.0" y="311.57" width="8.85" height="8.76" fill="#4060ff"/><rect x="495.0" y="303.11" width="8.85" height="8.76" fill="#3a48ff"/><rect x="495.0" y="294.65" width="8.85" height="8.76" fill="#3030ff"/><rect x="495.0" y="286.19" width="8.85" height="8.76" fill="#0000ff"/><rect x="495.0" y="277.73" width="8.85" height="8.76" fill="#0000f0"/><rect x="495.0" y="269.27" width="8.85" height="8.76" fill="#0000dd"/><rect x="495.0" y="260.82" width="8.85" height="8.76" fill="#0000cc"/><rect x="495.0" y="252.36" width="8.85" height="8.76" fill="#0000c0"/><rect x="495.0" y="243.9" width="8.85" height="8.76" fill="#ffff00"/><rect x="495.0" y="235.44" width="8.85" height="8.76" fill="#fff000"/><rect x="495.0" y="226.98" width="8.85" height="8.76" fill="#ffe400"/><rect x="495.0" y="218.52" width="8.85" height="8.76" fill="#ffd800"/><rect x="495.0" y="210.07" width="8.85" height="8.76" fill="#ffcc00"/><rect x="495.0" y="201.61" width="8.85" height="8.76" fill="#ff8c00"/><rect x="495.0" y="193.15" width="8.85" height="8.76" fill="#ff8800"/><rect x="495.0" y="184.69" width="8.85" height="8.76" fill="#ff8000"/><rect x="495.0" y="176.23" width="8.85" height="8.76" fill="#ff7800"/><rect x="495.0" y="167.77" width="8.85" height="8.76" fill="#ff7000"/><rect x="495.0" y="159.32" width="8.85" height="8.76" fill="#ff3800"/><rect x="495.0" y="150.86" width="8.85" height="8.76" fill="#ff3000"/><rect x="495.0" y="142.4" width="8.85" height="8.76" fill="#ff2800"/><rect x="495.0" y="133.94" width="8.85" height="8.76" fill="#ff2000"/><rect x="495.0" y="125.48" width="8.85" height="8.76" fill="#ff1000"/><rect x="495.0" y="117.02" width="8.85" height="8.76" fill="#cc0000"/><rect x="495.0" y="108.57" width="8.85" height="8.76" fill="#c00000"/><rect x="495.0" y="100.11" width="8.85" height="8.76" fill="#b00000"/><rect x="495.0" y="91.65" width="8.85" height="8.76" fill="#aa0800"/><rect x="495.0" y="83.19" width="8.85" height="8.76" fill="#a00a00"/><rect x="495.0" y="74.73" width="8.85" height="8.76" fill="#600e08"/><rect x="495.0" y="66.27" width="8.85" height="8.76" fill="#5e1010"/><rect x="495.0" y="57.82" width="8.85" height="8.76" fill="#5c1414"/><rect x="495.0" y="49.36" width="8.85" height="8.76" fill="#5c1616"/><rect x="495.0" y="40.9" width="8.85" height="8.76" fill="#581c1c"/><path d="M503.85 548.4h2.3" stroke="#000" stroke-width="0.8"/><text x="524.3" y="557.2" text-anchor="middle" font-size="20.5">0</text><path d="M503.85 497.65h2.3" stroke="#000" stroke-width="0.8"/><text x="524.3" y="506.45" text-anchor="middle" font-size="20.5">6</text><path d="M503.85 446.9h2.3" stroke="#000" stroke-width="0.8"/><text x="524.3" y="455.7" text-anchor="middle" font-size="20.5">12</text><path d="M503.85 396.15h2.3" stroke="#000" stroke-width="0.8"/><text x="524.3" y="404.95" text-anchor="middle" font-size="20.5">18</text><path d="M503.85 345.4h2.3" stroke="#000" stroke-width="0.8"/><text x="524.3" y="354.2" text-anchor="middle" font-size="20.5">24</text><path d="M503.85 294.65h2.3" stroke="#000" stroke-width="0.8"/><text x="524.3" y="303.45" text-anchor="middle" font-size="20.5">30</text><path d="M503.85 243.9h2.3" stroke="#000" stroke-width="0.8"/><text x="524.3" y="252.7" text-anchor="middle" font-size="20.5">36</text><path d="M503.85 193.15h2.3" stroke="#000" stroke-width="0.8"/><text x="524.3" y="201.95" text-anchor="middle" font-size="20.5">42</text><path d="M503.85 142.4h2.3" stroke="#000" stroke-width="0.8"/><text x="524.3" y="151.2" text-anchor="middle" font-size="20.5">48</text><path d="M503.85 91.65h2.3" stroke="#000" stroke-width="0.8"/><text x="524.3" y="100.45" text-anchor="middle" font-size="20.5">54</text><text x="145" y="34.9" font-size="15.7" text-anchor="start" >54355 2007-5-31 8:2:46 UTC</text></g><g transform="translate(590.33 0)"><use href="#grid"/><use href="#swath"/><use href="#coast"/><use href="#ll"/><use href="#cross"/><text x="36" y="66.3" font-size="25" text-anchor="start" >PR max reflectivity projection (dBZ)</text><text x="438.5" y="522.3" font-size="30.5" text-anchor="start" >(b)</text><rect x="495.0" y="539.94" width="8.85" height="8.76" fill="#ffffff"/><rect x="495.0" y="531.48" width="8.85" height="8.76" fill="#f6f6f6"/><rect x="495.0" y="523.02" width="8.85" height="8.76" fill="#eeeeee"/><rect x="495.0" y="514.57" width="8.85" height="8.76" fill="#e6e6e6"/><rect x="495.0" y="506.11" width="8.85" height="8.76" fill="#dedede"/><rect x="495.0" y="497.65" width="8.85" height="8.76" fill="#d6d6d6"/><rect x="495.0" y="489.19" width="8.85" height="8.76" fill="#cecece"/><rect x="495.0" y="480.73" width="8.85" height="8.76" fill="#c6c6c6"/><rect x="495.0" y="472.27" width="8.85" height="8.76" fill="#bebebe"/><rect x="495.0" y="463.82" width="8.85" height="8.76" fill="#b6b6b6"/><rect x="495.0" y="455.36" width="8.85" height="8.76" fill="#aeaeae"/><rect x="495.0" y="446.9" width="8.85" height="8.76" fill="#a6a6a6"/><rect x="495.0" y="438.44" width="8.85" height="8.76" fill="#9e9e9e"/><rect x="495.0" y="429.98" width="8.85" height="8.76" fill="#969696"/><rect x="495.0" y="421.52" width="8.85" height="8.76" fill="#8e8e8e"/><rect x="495.0" y="413.07" width="8.85" height="8.76" fill="#7ddd7d"/><rect x="495.0" y="404.61" width="8.85" height="8.76" fill="#76d276"/><rect x="495.0" y="396.15" width="8.85" height="8.76" fill="#70c870"/><rect x="495.0" y="387.69" width="8.85" height="8.76" fill="#6abf6a"/><rect x="495.0" y="379.23" width="8.85" height="8.76" fill="#66b866"/><rect x="495.0" y="370.77" width="8.85" height="8.76" fill="#d0d4ff"/><rect x="495.0" y="362.32" width="8.85" height="8.76" fill="#b0ccff"/><rect x="495.0" y="353.86" width="8.85" height="8.76" fill="#98c4ff"/><rect x="495.0" y="345.4" width="8.85" height="8.76" fill="#80baff"/><rect x="495.0" y="336.94" width="8.85" height="8.76" fill="#68b0ff"/><rect x="495.0" y="328.48" width="8.85" height="8.76" fill="#50a8ff"/><rect x="495.0" y="320.02" width="8.85" height="8.76" fill="#4888ff"/><rect x="495.0" y="311.57" width="8.85" height="8.76" fill="#4060ff"/><rect x="495.0" y="303.11" width="8.85" height="8.76" fill="#3a48ff"/><rect x="495.0" y="294.65" width="8.85" height="8.76" fill="#3030ff"/><rect x="495.0" y="286.19" width="8.85" height="8.76" fill="#0000ff"/><rect x="495.0" y="277.73" width="8.85" height="8.76" fill="#0000f0"/><rect x="495.0" y="269.27" width="8.85" height="8.76" fill="#0000dd"/><rect x="495.0" y="260.82" width="8.85" height="8.76" fill="#0000cc"/><rect x="495.0" y="252.36" width="8.85" height="8.76" fill="#0000c0"/><rect x="495.0" y="243.9" width="8.85" height="8.76" fill="#ffff00"/><rect x="495.0" y="235.44" width="8.85" height="8.76" fill="#fff000"/><rect x="495.0" y="226.98" width="8.85" height="8.76" fill="#ffe400"/><rect x="495.0" y="218.52" width="8.85" height="8.76" fill="#ffd800"/><rect x="495.0" y="210.07" width="8.85" height="8.76" fill="#ffcc00"/><rect x="495.0" y="201.61" width="8.85" height="8.76" fill="#ff8c00"/><rect x="495.0" y="193.15" width="8.85" height="8.76" fill="#ff8800"/><rect x="495.0" y="184.69" width="8.85" height="8.76" fill="#ff8000"/><rect x="495.0" y="176.23" width="8.85" height="8.76" fill="#ff7800"/><rect x="495.0" y="167.77" width="8.85" height="8.76" fill="#ff7000"/><rect x="495.0" y="159.32" width="8.85" height="8.76" fill="#ff3800"/><rect x="495.0" y="150.86" width="8.85" height="8.76" fill="#ff3000"/><rect x="495.0" y="142.4" width="8.85" height="8.76" fill="#ff2800"/><rect x="495.0" y="133.94" width="8.85" height="8.76" fill="#ff2000"/><rect x="495.0" y="125.48" width="8.85" height="8.76" fill="#ff1000"/><rect x="495.0" y="117.02" width="8.85" height="8.76" fill="#cc0000"/><rect x="495.0" y="108.57" width="8.85" height="8.76" fill="#c00000"/><rect x="495.0" y="100.11" width="8.85" height="8.76" fill="#b00000"/><rect x="495.0" y="91.65" width="8.85" height="8.76" fill="#aa0800"/><rect x="495.0" y="83.19" width="8.85" height="8.76" fill="#a00a00"/><rect x="495.0" y="74.73" width="8.85" height="8.76" fill="#600e08"/><rect x="495.0" y="66.27" width="8.85" height="8.76" fill="#5e1010"/><rect x="495.0" y="57.82" width="8.85" height="8.76" fill="#5c1414"/><rect x="495.0" y="49.36" width="8.85" height="8.76" fill="#5c1616"/><rect x="495.0" y="40.9" width="8.85" height="8.76" fill="#581c1c"/><path d="M503.85 548.4h2.3" stroke="#000" stroke-width="0.8"/><text x="524.3" y="557.2" text-anchor="middle" font-size="20.5">0</text><path d="M503.85 497.65h2.3" stroke="#000" stroke-width="0.8"/><text x="524.3" y="506.45" text-anchor="middle" font-size="20.5">6</text><path d="M503.85 446.9h2.3" stroke="#000" stroke-width="0.8"/><text x="524.3" y="455.7" text-anchor="middle" font-size="20.5">12</text><path d="M503.85 396.15h2.3" stroke="#000" stroke-width="0.8"/><text x="524.3" y="404.95" text-anchor="middle" font-size="20.5">18</text><path d="M503.85 345.4h2.3" stroke="#000" stroke-width="0.8"/><text x="524.3" y="354.2" text-anchor="middle" font-size="20.5">24</text><path d="M503.85 294.65h2.3" stroke="#000" stroke-width="0.8"/><text x="524.3" y="303.45" text-anchor="middle" font-size="20.5">30</text><path d="M503.85 243.9h2.3" stroke="#000" stroke-width="0.8"/><text x="524.3" y="252.7" text-anchor="middle" font-size="20.5">36</text><path d="M503.85 193.15h2.3" stroke="#000" stroke-width="0.8"/><text x="524.3" y="201.95" text-anchor="middle" font-size="20.5">42</text><path d="M503.85 142.4h2.3" stroke="#000" stroke-width="0.8"/><text x="524.3" y="151.2" text-anchor="middle" font-size="20.5">48</text><path d="M503.85 91.65h2.3" stroke="#000" stroke-width="0.8"/><text x="524.3" y="100.45" text-anchor="middle" font-size="20.5">54</text><text x="166.57" y="34.9" font-size="15.7" text-anchor="start" >EPA 200702 BARBARA</text></g><g transform="translate(1180.67 0)"><use href="#grid"/><use href="#swath"/><use href="#coast"/><use href="#ll"/><use href="#cross"/><text x="36.6" y="66.3" font-size="25" text-anchor="start" >2A25 near surface rainrate (mm/hr)</text><text x="438.5" y="522.3" font-size="30.5" text-anchor="start" >(c)</text><rect x="495.0" y="539.94" width="8.85" height="8.76" fill="#ffffff"/><rect x="495.0" y="531.48" width="8.85" height="8.76" fill="#80e080"/><rect x="495.0" y="523.02" width="8.85" height="8.76" fill="#7ad87a"/><rect x="495.0" y="514.57" width="8.85" height="8.76" fill="#76d076"/><rect x="495.0" y="506.11" width="8.85" height="8.76" fill="#72c872"/><rect x="495.0" y="497.65" width="8.85" height="8.76" fill="#6ec06e"/><rect x="495.0" y="489.19" width="8.85" height="8.76" fill="#6ab86a"/><rect x="495.0" y="480.73" width="8.85" height="8.76" fill="#66b266"/><rect x="495.0" y="472.27" width="8.85" height="8.76" fill="#d0d4ff"/><rect x="495.0" y="463.82" width="8.85" height="8.76" fill="#b8ceff"/><rect x="495.0" y="455.36" width="8.85" height="8.76" fill="#a8c8ff"/><rect x="495.0" y="446.9" width="8.85" height="8.76" fill="#98c4ff"/><rect x="495.0" y="438.44" width="8.85" height="8.76" fill="#84bcff"/><rect x="495.0" y="429.98" width="8.85" height="8.76" fill="#70b4ff"/><rect x="495.0" y="421.52" width="8.85" height="8.76" fill="#60b0ff"/><rect x="495.0" y="413.07" width="8.85" height="8.76" fill="#50b0ff"/><rect x="495.0" y="404.61" width="8.85" height="8.76" fill="#4890ff"/><rect x="495.0" y="396.15" width="8.85" height="8.76" fill="#4878ff"/><rect x="495.0" y="387.69" width="8.85" height="8.76" fill="#4060ff"/><rect x="495.0" y="379.23" width="8.85" height="8.76" fill="#3a48ff"/><rect x="495.0" y="370.77" width="8.85" height="8.76" fill="#3030ff"/><rect x="495.0" y="362.32" width="8.85" height="8.76" fill="#0000ff"/><rect x="495.0" y="353.86" width="8.85" height="8.76" fill="#0000f4"/><rect x="495.0" y="345.4" width="8.85" height="8.76" fill="#0000e8"/><rect x="495.0" y="336.94" width="8.85" height="8.76" fill="#0000dc"/><rect x="495.0" y="328.48" width="8.85" height="8.76" fill="#0000d0"/><rect x="495.0" y="320.02" width="8.85" height="8.76" fill="#0000c8"/><rect x="495.0" y="311.57" width="8.85" height="8.76" fill="#0000c0"/><rect x="495.0" y="303.11" width="8.85" height="8.76" fill="#ffff00"/><rect x="495.0" y="294.65" width="8.85" height="8.76" fill="#fff400"/><rect x="495.0" y="286.19" width="8.85" height="8.76" fill="#ffe800"/><rect x="495.0" y="277.73" width="8.85" height="8.76" fill="#ffe000"/><rect x="495.0" y="269.27" width="8.85" height="8.76" fill="#ffd800"/><rect x="495.0" y="260.82" width="8.85" height="8.76" fill="#ffd000"/><rect x="495.0" y="252.36" width="8.85" height="8.76" fill="#ffc800"/><rect x="495.0" y="243.9" width="8.85" height="8.76" fill="#ff8c00"/><rect x="495.0" y="235.44" width="8.85" height="8.76" fill="#ff8400"/><rect x="495.0" y="226.98" width="8.85" height="8.76" fill="#ff7c00"/><rect x="495.0" y="218.52" width="8.85" height="8.76" fill="#ff7800"/><rect x="495.0" y="210.07" width="8.85" height="8.76" fill="#ff7400"/><rect x="495.0" y="201.61" width="8.85" height="8.76" fill="#ff7000"/><rect x="495.0" y="193.15" width="8.85" height="8.76" fill="#ff4000"/><rect x="495.0" y="184.69" width="8.85" height="8.76" fill="#ff3400"/><rect x="495.0" y="176.23" width="8.85" height="8.76" fill="#ff2c00"/><rect x="495.0" y="167.77" width="8.85" height="8.76" fill="#ff2400"/><rect x="495.0" y="159.32" width="8.85" height="8.76" fill="#ff1c00"/><rect x="495.0" y="150.86" width="8.85" height="8.76" fill="#ff1400"/><rect x="495.0" y="142.4" width="8.85" height="8.76" fill="#ff0c00"/><rect x="495.0" y="133.94" width="8.85" height="8.76" fill="#cc0000"/><rect x="495.0" y="125.48" width="8.85" height="8.76" fill="#c40000"/><rect x="495.0" y="117.02" width="8.85" height="8.76" fill="#bc0000"/><rect x="495.0" y="108.57" width="8.85" height="8.76" fill="#b40000"/><rect x="495.0" y="100.11" width="8.85" height="8.76" fill="#aa0400"/><rect x="495.0" y="91.65" width="8.85" height="8.76" fill="#a20800"/><rect x="495.0" y="83.19" width="8.85" height="8.76" fill="#9c0a00"/><rect x="495.0" y="74.73" width="8.85" height="8.76" fill="#600e08"/><rect x="495.0" y="66.27" width="8.85" height="8.76" fill="#5e1010"/><rect x="495.0" y="57.82" width="8.85" height="8.76" fill="#5c1414"/><rect x="495.0" y="49.36" width="8.85" height="8.76" fill="#5c1616"/><rect x="495.0" y="40.9" width="8.85" height="8.76" fill="#581c1c"/><path d="M503.85 548.4h2.3" stroke="#000" stroke-width="0.8"/><text x="524.3" y="557.2" text-anchor="middle" font-size="20.5">0</text><path d="M503.85 497.65h2.3" stroke="#000" stroke-width="0.8"/><text x="524.3" y="506.45" text-anchor="middle" font-size="20.5">6</text><path d="M503.85 446.9h2.3" stroke="#000" stroke-width="0.8"/><text x="524.3" y="455.7" text-anchor="middle" font-size="20.5">12</text><path d="M503.85 396.15h2.3" stroke="#000" stroke-width="0.8"/><text x="524.3" y="404.95" text-anchor="middle" font-size="20.5">18</text><path d="M503.85 345.4h2.3" stroke="#000" stroke-width="0.8"/><text x="524.3" y="354.2" text-anchor="middle" font-size="20.5">24</text><path d="M503.85 294.65h2.3" stroke="#000" stroke-width="0.8"/><text x="524.3" y="303.45" text-anchor="middle" font-size="20.5">30</text><path d="M503.85 243.9h2.3" stroke="#000" stroke-width="0.8"/><text x="524.3" y="252.7" text-anchor="middle" font-size="20.5">36</text><path d="M503.85 193.15h2.3" stroke="#000" stroke-width="0.8"/><text x="524.3" y="201.95" text-anchor="middle" font-size="20.5">42</text><path d="M503.85 142.4h2.3" stroke="#000" stroke-width="0.8"/><text x="524.3" y="151.2" text-anchor="middle" font-size="20.5">48</text><path d="M503.85 91.65h2.3" stroke="#000" stroke-width="0.8"/><text x="524.3" y="100.45" text-anchor="middle" font-size="20.5">54</text></g><g transform="translate(0 590.33)"><use href="#grid"/><use href="#swath"/><use href="#coast"/><use href="#ll"/><use href="#cross"/><text x="43.5" y="66.3" font-size="25" text-anchor="start" >85GHz PCT (K)</text><text x="438.5" y="522.3" font-size="30.5" text-anchor="start" >(d)</text><rect x="495.0" y="539.94" width="8.85" height="8.76" fill="#ffffff"/><rect x="495.0" y="531.48" width="8.85" height="8.76" fill="#f6f6f6"/><rect x="495.0" y="523.02" width="8.85" height="8.76" fill="#eeeeee"/><rect x="495.0" y="514.57" width="8.85" height="8.76" fill="#e6e6e6"/><rect x="495.0" y="506.11" width="8.85" height="8.76" fill="#dedede"/><rect x="495.0" y="497.65" width="8.85" height="8.76" fill="#d6d6d6"/><rect x="495.0" y="489.19" width="8.85" height="8.76" fill="#cecece"/><rect x="495.0" y="480.73" width="8.85" height="8.76" fill="#c6c6c6"/><rect x="495.0" y="472.27" width="8.85" height="8.76" fill="#bebebe"/><rect x="495.0" y="463.82" width="8.85" height="8.76" fill="#b6b6b6"/><rect x="495.0" y="455.36" width="8.85" height="8.76" fill="#aeaeae"/><rect x="495.0" y="446.9" width="8.85" height="8.76" fill="#a6a6a6"/><rect x="495.0" y="438.44" width="8.85" height="8.76" fill="#9e9e9e"/><rect x="495.0" y="429.98" width="8.85" height="8.76" fill="#969696"/><rect x="495.0" y="421.52" width="8.85" height="8.76" fill="#8e8e8e"/><rect x="495.0" y="413.07" width="8.85" height="8.76" fill="#7ddd7d"/><rect x="495.0" y="404.61" width="8.85" height="8.76" fill="#76d276"/><rect x="495.0" y="396.15" width="8.85" height="8.76" fill="#70c870"/><rect x="495.0" y="387.69" width="8.85" height="8.76" fill="#6abf6a"/><rect x="495.0" y="379.23" width="8.85" height="8.76" fill="#66b866"/><rect x="495.0" y="370.77" width="8.85" height="8.76" fill="#d0d4ff"/><rect x="495.0" y="362.32" width="8.85" height="8.76" fill="#b0ccff"/><rect x="495.0" y="353.86" width="8.85" height="8.76" fill="#98c4ff"/><rect x="495.0" y="345.4" width="8.85" height="8.76" fill="#80baff"/><rect x="495.0" y="336.94" width="8.85" height="8.76" fill="#68b0ff"/><rect x="495.0" y="328.48" width="8.85" height="8.76" fill="#50a8ff"/><rect x="495.0" y="320.02" width="8.85" height="8.76" fill="#4888ff"/><rect x="495.0" y="311.57" width="8.85" height="8.76" fill="#4060ff"/><rect x="495.0" y="303.11" width="8.85" height="8.76" fill="#3a48ff"/><rect x="495.0" y="294.65" width="8.85" height="8.76" fill="#3030ff"/><rect x="495.0" y="286.19" width="8.85" height="8.76" fill="#0000ff"/><rect x="495.0" y="277.73" width="8.85" height="8.76" fill="#0000f0"/><rect x="495.0" y="269.27" width="8.85" height="8.76" fill="#0000dd"/><rect x="495.0" y="260.82" width="8.85" height="8.76" fill="#0000cc"/><rect x="495.0" y="252.36" width="8.85" height="8.76" fill="#0000c0"/><rect x="495.0" y="243.9" width="8.85" height="8.76" fill="#ffff00"/><rect x="495.0" y="235.44" width="8.85" height="8.76" fill="#fff000"/><rect x="495.0" y="226.98" width="8.85" height="8.76" fill="#ffe400"/><rect x="495.0" y="218.52" width="8.85" height="8.76" fill="#ffd800"/><rect x="495.0" y="210.07" width="8.85" height="8.76" fill="#ffcc00"/><rect x="495.0" y="201.61" width="8.85" height="8.76" fill="#ff8c00"/><rect x="495.0" y="193.15" width="8.85" height="8.76" fill="#ff8800"/><rect x="495.0" y="184.69" width="8.85" height="8.76" fill="#ff8000"/><rect x="495.0" y="176.23" width="8.85" height="8.76" fill="#ff7800"/><rect x="495.0" y="167.77" width="8.85" height="8.76" fill="#ff7000"/><rect x="495.0" y="159.32" width="8.85" height="8.76" fill="#ff3800"/><rect x="495.0" y="150.86" width="8.85" height="8.76" fill="#ff3000"/><rect x="495.0" y="142.4" width="8.85" height="8.76" fill="#ff2800"/><rect x="495.0" y="133.94" width="8.85" height="8.76" fill="#ff2000"/><rect x="495.0" y="125.48" width="8.85" height="8.76" fill="#ff1000"/><rect x="495.0" y="117.02" width="8.85" height="8.76" fill="#cc0000"/><rect x="495.0" y="108.57" width="8.85" height="8.76" fill="#c00000"/><rect x="495.0" y="100.11" width="8.85" height="8.76" fill="#b00000"/><rect x="495.0" y="91.65" width="8.85" height="8.76" fill="#aa0800"/><rect x="495.0" y="83.19" width="8.85" height="8.76" fill="#a00a00"/><rect x="495.0" y="74.73" width="8.85" height="8.76" fill="#600e08"/><rect x="495.0" y="66.27" width="8.85" height="8.76" fill="#5e1010"/><rect x="495.0" y="57.82" width="8.85" height="8.76" fill="#5c1414"/><rect x="495.0" y="49.36" width="8.85" height="8.76" fill="#5c1616"/><rect x="495.0" y="40.9" width="8.85" height="8.76" fill="#581c1c"/><path d="M503.85 548.4h2.3" stroke="#000" stroke-width="0.8"/><text x="524.3" y="557.2" text-anchor="middle" font-size="20.5">300</text><path d="M503.85 497.65h2.3" stroke="#000" stroke-width="0.8"/><text x="524.3" y="506.45" text-anchor="middle" font-size="20.5">279</text><path d="M503.85 446.9h2.3" stroke="#000" stroke-width="0.8"/><text x="524.3" y="455.7" text-anchor="middle" font-size="20.5">258</text><path d="M503.85 396.15h2.3" stroke="#000" stroke-width="0.8"/><text x="524.3" y="404.95" text-anchor="middle" font-size="20.5">237</text><path d="M503.85 345.4h2.3" stroke="#000" stroke-width="0.8"/><text x="524.3" y="354.2" text-anchor="middle" font-size="20.5">216</text><path d="M503.85 294.65h2.3" stroke="#000" stroke-width="0.8"/><text x="524.3" y="303.45" text-anchor="middle" font-size="20.5">195</text><path d="M503.85 243.9h2.3" stroke="#000" stroke-width="0.8"/><text x="524.3" y="252.7" text-anchor="middle" font-size="20.5">174</text><path d="M503.85 193.15h2.3" stroke="#000" stroke-width="0.8"/><text x="524.3" y="201.95" text-anchor="middle" font-size="20.5">153</text><path d="M503.85 142.4h2.3" stroke="#000" stroke-width="0.8"/><text x="524.3" y="151.2" text-anchor="middle" font-size="20.5">132</text><path d="M503.85 91.65h2.3" stroke="#000" stroke-width="0.8"/><text x="524.3" y="100.45" text-anchor="middle" font-size="20.5">111</text></g><g transform="translate(590.33 590.33)"><use href="#grid"/><use href="#swath"/><use href="#coast"/><use href="#ll"/><use href="#cross"/><text x="43.1" y="66.3" font-size="25" text-anchor="start" >37GHz PCT (K)</text><text x="438.5" y="522.3" font-size="30.5" text-anchor="start" >(e)</text><rect x="495.0" y="539.94" width="8.85" height="8.76" fill="#ffffff"/><rect x="495.0" y="531.48" width="8.85" height="8.76" fill="#f6f6f6"/><rect x="495.0" y="523.02" width="8.85" height="8.76" fill="#eeeeee"/><rect x="495.0" y="514.57" width="8.85" height="8.76" fill="#e6e6e6"/><rect x="495.0" y="506.11" width="8.85" height="8.76" fill="#dedede"/><rect x="495.0" y="497.65" width="8.85" height="8.76" fill="#d6d6d6"/><rect x="495.0" y="489.19" width="8.85" height="8.76" fill="#cecece"/><rect x="495.0" y="480.73" width="8.85" height="8.76" fill="#c6c6c6"/><rect x="495.0" y="472.27" width="8.85" height="8.76" fill="#bebebe"/><rect x="495.0" y="463.82" width="8.85" height="8.76" fill="#b6b6b6"/><rect x="495.0" y="455.36" width="8.85" height="8.76" fill="#aeaeae"/><rect x="495.0" y="446.9" width="8.85" height="8.76" fill="#a6a6a6"/><rect x="495.0" y="438.44" width="8.85" height="8.76" fill="#9e9e9e"/><rect x="495.0" y="429.98" width="8.85" height="8.76" fill="#969696"/><rect x="495.0" y="421.52" width="8.85" height="8.76" fill="#8e8e8e"/><rect x="495.0" y="413.07" width="8.85" height="8.76" fill="#7ddd7d"/><rect x="495.0" y="404.61" width="8.85" height="8.76" fill="#76d276"/><rect x="495.0" y="396.15" width="8.85" height="8.76" fill="#70c870"/><rect x="495.0" y="387.69" width="8.85" height="8.76" fill="#6abf6a"/><rect x="495.0" y="379.23" width="8.85" height="8.76" fill="#66b866"/><rect x="495.0" y="370.77" width="8.85" height="8.76" fill="#d0d4ff"/><rect x="495.0" y="362.32" width="8.85" height="8.76" fill="#b0ccff"/><rect x="495.0" y="353.86" width="8.85" height="8.76" fill="#98c4ff"/><rect x="495.0" y="345.4" width="8.85" height="8.76" fill="#80baff"/><rect x="495.0" y="336.94" width="8.85" height="8.76" fill="#68b0ff"/><rect x="495.0" y="328.48" width="8.85" height="8.76" fill="#50a8ff"/><rect x="495.0" y="320.02" width="8.85" height="8.76" fill="#4888ff"/><rect x="495.0" y="311.57" width="8.85" height="8.76" fill="#4060ff"/><rect x="495.0" y="303.11" width="8.85" height="8.76" fill="#3a48ff"/><rect x="495.0" y="294.65" width="8.85" height="8.76" fill="#3030ff"/><rect x="495.0" y="286.19" width="8.85" height="8.76" fill="#0000ff"/><rect x="495.0" y="277.73" width="8.85" height="8.76" fill="#0000f0"/><rect x="495.0" y="269.27" width="8.85" height="8.76" fill="#0000dd"/><rect x="495.0" y="260.82" width="8.85" height="8.76" fill="#0000cc"/><rect x="495.0" y="252.36" width="8.85" height="8.76" fill="#0000c0"/><rect x="495.0" y="243.9" width="8.85" height="8.76" fill="#ffff00"/><rect x="495.0" y="235.44" width="8.85" height="8.76" fill="#fff000"/><rect x="495.0" y="226.98" width="8.85" height="8.76" fill="#ffe400"/><rect x="495.0" y="218.52" width="8.85" height="8.76" fill="#ffd800"/><rect x="495.0" y="210.07" width="8.85" height="8.76" fill="#ffcc00"/><rect x="495.0" y="201.61" width="8.85" height="8.76" fill="#ff8c00"/><rect x="495.0" y="193.15" width="8.85" height="8.76" fill="#ff8800"/><rect x="495.0" y="184.69" width="8.85" height="8.76" fill="#ff8000"/><rect x="495.0" y="176.23" width="8.85" height="8.76" fill="#ff7800"/><rect x="495.0" y="167.77" width="8.85" height="8.76" fill="#ff7000"/><rect x="495.0" y="159.32" width="8.85" height="8.76" fill="#ff3800"/><rect x="495.0" y="150.86" width="8.85" height="8.76" fill="#ff3000"/><rect x="495.0" y="142.4" width="8.85" height="8.76" fill="#ff2800"/><rect x="495.0" y="133.94" width="8.85" height="8.76" fill="#ff2000"/><rect x="495.0" y="125.48" width="8.85" height="8.76" fill="#ff1000"/><rect x="495.0" y="117.02" width="8.85" height="8.76" fill="#cc0000"/><rect x="495.0" y="108.57" width="8.85" height="8.76" fill="#c00000"/><rect x="495.0" y="100.11" width="8.85" height="8.76" fill="#b00000"/><rect x="495.0" y="91.65" width="8.85" height="8.76" fill="#aa0800"/><rect x="495.0" y="83.19" width="8.85" height="8.76" fill="#a00a00"/><rect x="495.0" y="74.73" width="8.85" height="8.76" fill="#600e08"/><rect x="495.0" y="66.27" width="8.85" height="8.76" fill="#5e1010"/><rect x="495.0" y="57.82" width="8.85" height="8.76" fill="#5c1414"/><rect x="495.0" y="49.36" width="8.85" height="8.76" fill="#5c1616"/><rect x="495.0" y="40.9" width="8.85" height="8.76" fill="#581c1c"/><path d="M503.85 548.4h2.3" stroke="#000" stroke-width="0.8"/><text x="524.3" y="557.2" text-anchor="middle" font-size="20.5">315</text><path d="M503.85 497.65h2.3" stroke="#000" stroke-width="0.8"/><text x="524.3" y="506.45" text-anchor="middle" font-size="20.5">306</text><path d="M503.85 446.9h2.3" stroke="#000" stroke-width="0.8"/><text x="524.3" y="455.7" text-anchor="middle" font-size="20.5">297</text><path d="M503.85 396.15h2.3" stroke="#000" stroke-width="0.8"/><text x="524.3" y="404.95" text-anchor="middle" font-size="20.5">288</text><path d="M503.85 345.4h2.3" stroke="#000" stroke-width="0.8"/><text x="524.3" y="354.2" text-anchor="middle" font-size="20.5">279</text><path d="M503.85 294.65h2.3" stroke="#000" stroke-width="0.8"/><text x="524.3" y="303.45" text-anchor="middle" font-size="20.5">270</text><path d="M503.85 243.9h2.3" stroke="#000" stroke-width="0.8"/><text x="524.3" y="252.7" text-anchor="middle" font-size="20.5">261</text><path d="M503.85 193.15h2.3" stroke="#000" stroke-width="0.8"/><text x="524.3" y="201.95" text-anchor="middle" font-size="20.5">252</text><path d="M503.85 142.4h2.3" stroke="#000" stroke-width="0.8"/><text x="524.3" y="151.2" text-anchor="middle" font-size="20.5">243</text><path d="M503.85 91.65h2.3" stroke="#000" stroke-width="0.8"/><text x="524.3" y="100.45" text-anchor="middle" font-size="20.5">234</text></g><g transform="translate(1180.67 590.33)"><use href="#grid"/><use href="#swath"/><use href="#coast"/><use href="#ll"/><use href="#cross"/><text x="36.9" y="66.3" font-size="25" text-anchor="start" >2A12 rainrate (mm/hr)</text><text x="438.5" y="522.3" font-size="30.5" text-anchor="start" >(f)</text><rect x="495.0" y="539.94" width="8.85" height="8.76" fill="#ffffff"/><rect x="495.0" y="531.48" width="8.85" height="8.76" fill="#80e080"/><rect x="495.0" y="523.02" width="8.85" height="8.76" fill="#7ad87a"/><rect x="495.0" y="514.57" width="8.85" height="8.76" fill="#76d076"/><rect x="495.0" y="506.11" width="8.85" height="8.76" fill="#72c872"/><rect x="495.0" y="497.65" width="8.85" height="8.76" fill="#6ec06e"/><rect x="495.0" y="489.19" width="8.85" height="8.76" fill="#6ab86a"/><rect x="495.0" y="480.73" width="8.85" height="8.76" fill="#66b266"/><rect x="495.0" y="472.27" width="8.85" height="8.76" fill="#d0d4ff"/><rect x="495.0" y="463.82" width="8.85" height="8.76" fill="#b8ceff"/><rect x="495.0" y="455.36" width="8.85" height="8.76" fill="#a8c8ff"/><rect x="495.0" y="446.9" width="8.85" height="8.76" fill="#98c4ff"/><rect x="495.0" y="438.44" width="8.85" height="8.76" fill="#84bcff"/><rect x="495.0" y="429.98" width="8.85" height="8.76" fill="#70b4ff"/><rect x="495.0" y="421.52" width="8.85" height="8.76" fill="#60b0ff"/><rect x="495.0" y="413.07" width="8.85" height="8.76" fill="#50b0ff"/><rect x="495.0" y="404.61" width="8.85" height="8.76" fill="#4890ff"/><rect x="495.0" y="396.15" width="8.85" height="8.76" fill="#4878ff"/><rect x="495.0" y="387.69" width="8.85" height="8.76" fill="#4060ff"/><rect x="495.0" y="379.23" width="8.85" height="8.76" fill="#3a48ff"/><rect x="495.0" y="370.77" width="8.85" height="8.76" fill="#3030ff"/><rect x="495.0" y="362.32" width="8.85" height="8.76" fill="#0000ff"/><rect x="495.0" y="353.86" width="8.85" height="8.76" fill="#0000f4"/><rect x="495.0" y="345.4" width="8.85" height="8.76" fill="#0000e8"/><rect x="495.0" y="336.94" width="8.85" height="8.76" fill="#0000dc"/><rect x="495.0" y="328.48" width="8.85" height="8.76" fill="#0000d0"/><rect x="495.0" y="320.02" width="8.85" height="8.76" fill="#0000c8"/><rect x="495.0" y="311.57" width="8.85" height="8.76" fill="#0000c0"/><rect x="495.0" y="303.11" width="8.85" height="8.76" fill="#ffff00"/><rect x="495.0" y="294.65" width="8.85" height="8.76" fill="#fff400"/><rect x="495.0" y="286.19" width="8.85" height="8.76" fill="#ffe800"/><rect x="495.0" y="277.73" width="8.85" height="8.76" fill="#ffe000"/><rect x="495.0" y="269.27" width="8.85" height="8.76" fill="#ffd800"/><rect x="495.0" y="260.82" width="8.85" height="8.76" fill="#ffd000"/><rect x="495.0" y="252.36" width="8.85" height="8.76" fill="#ffc800"/><rect x="495.0" y="243.9" width="8.85" height="8.76" fill="#ff8c00"/><rect x="495.0" y="235.44" width="8.85" height="8.76" fill="#ff8400"/><rect x="495.0" y="226.98" width="8.85" height="8.76" fill="#ff7c00"/><rect x="495.0" y="218.52" width="8.85" height="8.76" fill="#ff7800"/><rect x="495.0" y="210.07" width="8.85" height="8.76" fill="#ff7400"/><rect x="495.0" y="201.61" width="8.85" height="8.76" fill="#ff7000"/><rect x="495.0" y="193.15" width="8.85" height="8.76" fill="#ff4000"/><rect x="495.0" y="184.69" width="8.85" height="8.76" fill="#ff3400"/><rect x="495.0" y="176.23" width="8.85" height="8.76" fill="#ff2c00"/><rect x="495.0" y="167.77" width="8.85" height="8.76" fill="#ff2400"/><rect x="495.0" y="159.32" width="8.85" height="8.76" fill="#ff1c00"/><rect x="495.0" y="150.86" width="8.85" height="8.76" fill="#ff1400"/><rect x="495.0" y="142.4" width="8.85" height="8.76" fill="#ff0c00"/><rect x="495.0" y="133.94" width="8.85" height="8.76" fill="#cc0000"/><rect x="495.0" y="125.48" width="8.85" height="8.76" fill="#c40000"/><rect x="495.0" y="117.02" width="8.85" height="8.76" fill="#bc0000"/><rect x="495.0" y="108.57" width="8.85" height="8.76" fill="#b40000"/><rect x="495.0" y="100.11" width="8.85" height="8.76" fill="#aa0400"/><rect x="495.0" y="91.65" width="8.85" height="8.76" fill="#a20800"/><rect x="495.0" y="83.19" width="8.85" height="8.76" fill="#9c0a00"/><rect x="495.0" y="74.73" width="8.85" height="8.76" fill="#600e08"/><rect x="495.0" y="66.27" width="8.85" height="8.76" fill="#5e1010"/><rect x="495.0" y="57.82" width="8.85" height="8.76" fill="#5c1414"/><rect x="495.0" y="49.36" width="8.85" height="8.76" fill="#5c1616"/><rect x="495.0" y="40.9" width="8.85" height="8.76" fill="#581c1c"/><path d="M503.85 548.4h2.3" stroke="#000" stroke-width="0.8"/><text x="524.3" y="557.2" text-anchor="middle" font-size="20.5">0</text><path d="M503.85 497.65h2.3" stroke="#000" stroke-width="0.8"/><text x="524.3" y="506.45" text-anchor="middle" font-size="20.5">6</text><path d="M503.85 446.9h2.3" stroke="#000" stroke-width="0.8"/><text x="524.3" y="455.7" text-anchor="middle" font-size="20.5">12</text><path d="M503.85 396.15h2.3" stroke="#000" stroke-width="0.8"/><text x="524.3" y="404.95" text-anchor="middle" font-size="20.5">18</text><path d="M503.85 345.4h2.3" stroke="#000" stroke-width="0.8"/><text x="524.3" y="354.2" text-anchor="middle" font-size="20.5">24</text><path d="M503.85 294.65h2.3" stroke="#000" stroke-width="0.8"/><text x="524.3" y="303.45" text-anchor="middle" font-size="20.5">30</text><path d="M503.85 243.9h2.3" stroke="#000" stroke-width="0.8"/><text x="524.3" y="252.7" text-anchor="middle" font-size="20.5">36</text><path d="M503.85 193.15h2.3" stroke="#000" stroke-width="0.8"/><text x="524.3" y="201.95" text-anchor="middle" font-size="20.5">42</text><path d="M503.85 142.4h2.3" stroke="#000" stroke-width="0.8"/><text x="524.3" y="151.2" text-anchor="middle" font-size="20.5">48</text><path d="M503.85 91.65h2.3" stroke="#000" stroke-width="0.8"/><text x="524.3" y="100.45" text-anchor="middle" font-size="20.5">54</text></g><g transform="translate(0 1180.67)"><defs><clipPath id="outG"><path clip-rule="evenodd" d="M0 0H590V590H0Z M13 40.8 L485.8 40.8 L485.6 104.8 L381.2 170.5 L290.8 224.1 L240 258 L183.5 297.6 L98.8 356.2 L66.3 378.8 L13 417.6Z"/></clipPath></defs><g clip-path="url(#outG)"><use href="#coast"/></g><use href="#grid"/><use href="#swath"/><use href="#coastthin"/><use href="#ll"/><use href="#cross"/><text x="37.3" y="66.3" font-size="25" text-anchor="start" >VIRS T<tspan font-size="14.5" dy="5.6" dx="1">B11</tspan><tspan dy="-5.6" dx="4"> (K)</tspan></text><text x="438.5" y="522.3" font-size="30.5" text-anchor="start" >(g)</text><rect x="495.0" y="539.94" width="8.85" height="8.76" fill="#ffffff"/><rect x="495.0" y="531.48" width="8.85" height="8.76" fill="#f6f6f6"/><rect x="495.0" y="523.02" width="8.85" height="8.76" fill="#eeeeee"/><rect x="495.0" y="514.57" width="8.85" height="8.76" fill="#e6e6e6"/><rect x="495.0" y="506.11" width="8.85" height="8.76" fill="#dedede"/><rect x="495.0" y="497.65" width="8.85" height="8.76" fill="#d6d6d6"/><rect x="495.0" y="489.19" width="8.85" height="8.76" fill="#cecece"/><rect x="495.0" y="480.73" width="8.85" height="8.76" fill="#c6c6c6"/><rect x="495.0" y="472.27" width="8.85" height="8.76" fill="#bebebe"/><rect x="495.0" y="463.82" width="8.85" height="8.76" fill="#b6b6b6"/><rect x="495.0" y="455.36" width="8.85" height="8.76" fill="#aeaeae"/><rect x="495.0" y="446.9" width="8.85" height="8.76" fill="#a6a6a6"/><rect x="495.0" y="438.44" width="8.85" height="8.76" fill="#9e9e9e"/><rect x="495.0" y="429.98" width="8.85" height="8.76" fill="#969696"/><rect x="495.0" y="421.52" width="8.85" height="8.76" fill="#8e8e8e"/><rect x="495.0" y="413.07" width="8.85" height="8.76" fill="#7ddd7d"/><rect x="495.0" y="404.61" width="8.85" height="8.76" fill="#76d276"/><rect x="495.0" y="396.15" width="8.85" height="8.76" fill="#70c870"/><rect x="495.0" y="387.69" width="8.85" height="8.76" fill="#6abf6a"/><rect x="495.0" y="379.23" width="8.85" height="8.76" fill="#66b866"/><rect x="495.0" y="370.77" width="8.85" height="8.76" fill="#d0d4ff"/><rect x="495.0" y="362.32" width="8.85" height="8.76" fill="#b0ccff"/><rect x="495.0" y="353.86" width="8.85" height="8.76" fill="#98c4ff"/><rect x="495.0" y="345.4" width="8.85" height="8.76" fill="#80baff"/><rect x="495.0" y="336.94" width="8.85" height="8.76" fill="#68b0ff"/><rect x="495.0" y="328.48" width="8.85" height="8.76" fill="#50a8ff"/><rect x="495.0" y="320.02" width="8.85" height="8.76" fill="#4888ff"/><rect x="495.0" y="311.57" width="8.85" height="8.76" fill="#4060ff"/><rect x="495.0" y="303.11" width="8.85" height="8.76" fill="#3a48ff"/><rect x="495.0" y="294.65" width="8.85" height="8.76" fill="#3030ff"/><rect x="495.0" y="286.19" width="8.85" height="8.76" fill="#0000ff"/><rect x="495.0" y="277.73" width="8.85" height="8.76" fill="#0000f0"/><rect x="495.0" y="269.27" width="8.85" height="8.76" fill="#0000dd"/><rect x="495.0" y="260.82" width="8.85" height="8.76" fill="#0000cc"/><rect x="495.0" y="252.36" width="8.85" height="8.76" fill="#0000c0"/><rect x="495.0" y="243.9" width="8.85" height="8.76" fill="#ffff00"/><rect x="495.0" y="235.44" width="8.85" height="8.76" fill="#fff000"/><rect x="495.0" y="226.98" width="8.85" height="8.76" fill="#ffe400"/><rect x="495.0" y="218.52" width="8.85" height="8.76" fill="#ffd800"/><rect x="495.0" y="210.07" width="8.85" height="8.76" fill="#ffcc00"/><rect x="495.0" y="201.61" width="8.85" height="8.76" fill="#ff8c00"/><rect x="495.0" y="193.15" width="8.85" height="8.76" fill="#ff8800"/><rect x="495.0" y="184.69" width="8.85" height="8.76" fill="#ff8000"/><rect x="495.0" y="176.23" width="8.85" height="8.76" fill="#ff7800"/><rect x="495.0" y="167.77" width="8.85" height="8.76" fill="#ff7000"/><rect x="495.0" y="159.32" width="8.85" height="8.76" fill="#ff3800"/><rect x="495.0" y="150.86" width="8.85" height="8.76" fill="#ff3000"/><rect x="495.0" y="142.4" width="8.85" height="8.76" fill="#ff2800"/><rect x="495.0" y="133.94" width="8.85" height="8.76" fill="#ff2000"/><rect x="495.0" y="125.48" width="8.85" height="8.76" fill="#ff1000"/><rect x="495.0" y="117.02" width="8.85" height="8.76" fill="#cc0000"/><rect x="495.0" y="108.57" width="8.85" height="8.76" fill="#c00000"/><rect x="495.0" y="100.11" width="8.85" height="8.76" fill="#b00000"/><rect x="495.0" y="91.65" width="8.85" height="8.76" fill="#aa0800"/><rect x="495.0" y="83.19" width="8.85" height="8.76" fill="#a00a00"/><rect x="495.0" y="74.73" width="8.85" height="8.76" fill="#600e08"/><rect x="495.0" y="66.27" width="8.85" height="8.76" fill="#5e1010"/><rect x="495.0" y="57.82" width="8.85" height="8.76" fill="#5c1414"/><rect x="495.0" y="49.36" width="8.85" height="8.76" fill="#5c1616"/><rect x="495.0" y="40.9" width="8.85" height="8.76" fill="#581c1c"/><path d="M503.85 548.4h2.3" stroke="#000" stroke-width="0.8"/><text x="524.3" y="557.2" text-anchor="middle" font-size="20.5">304</text><path d="M503.85 497.65h2.3" stroke="#000" stroke-width="0.8"/><text x="524.3" y="506.45" text-anchor="middle" font-size="20.5">292</text><path d="M503.85 446.9h2.3" stroke="#000" stroke-width="0.8"/><text x="524.3" y="455.7" text-anchor="middle" font-size="20.5">280</text><path d="M503.85 396.15h2.3" stroke="#000" stroke-width="0.8"/><text x="524.3" y="404.95" text-anchor="middle" font-size="20.5">268</text><path d="M503.85 345.4h2.3" stroke="#000" stroke-width="0.8"/><text x="524.3" y="354.2" text-anchor="middle" font-size="20.5">256</text><path d="M503.85 294.65h2.3" stroke="#000" stroke-width="0.8"/><text x="524.3" y="303.45" text-anchor="middle" font-size="20.5">244</text><path d="M503.85 243.9h2.3" stroke="#000" stroke-width="0.8"/><text x="524.3" y="252.7" text-anchor="middle" font-size="20.5">232</text><path d="M503.85 193.15h2.3" stroke="#000" stroke-width="0.8"/><text x="524.3" y="201.95" text-anchor="middle" font-size="20.5">220</text><path d="M503.85 142.4h2.3" stroke="#000" stroke-width="0.8"/><text x="524.3" y="151.2" text-anchor="middle" font-size="20.5">208</text><path d="M503.85 91.65h2.3" stroke="#000" stroke-width="0.8"/><text x="524.3" y="100.45" text-anchor="middle" font-size="20.5">196</text></g><g transform="translate(590.33 1180.67)"><use href="#grid"/><use href="#swath"/><use href="#coast"/><use href="#ll"/><use href="#cross"/><text x="36.9" y="66.3" font-size="25" text-anchor="start" >2A23 rain types</text><text x="438.5" y="522.3" font-size="30.5" text-anchor="start" >(h)</text><rect x="494.9" y="41.3" width="9.4" height="169.1" fill="#ff4400"/><rect x="494.9" y="210.4" width="9.4" height="169.2" fill="#0000ff"/><rect x="494.9" y="379.6" width="9.4" height="168.8" fill="#fff"/><rect x="494.9" y="41.3" width="9.4" height="507.1" fill="none" stroke="#333" stroke-width="0.7"/><path d="M504.3 41.3h2" stroke="#000" stroke-width="0.8"/><text x="508.6" y="48.7" font-size="19.8">Conv</text><path d="M504.3 210.4h2" stroke="#000" stroke-width="0.8"/><text x="508.6" y="217.8" font-size="19.8">Strat</text><path d="M504.3 379.6h2" stroke="#000" stroke-width="0.8"/><text x="508.6" y="387" font-size="19.8">N/A</text></g><g transform="translate(1180.67 1180.67)"><use href="#grid"/><use href="#swath"/><use href="#coast"/><use href="#ll"/><use href="#cross"/><text x="36.9" y="66.3" font-size="25" text-anchor="start" >2A23 storm height (km)</text><text x="438.5" y="522.3" font-size="30.5" text-anchor="start" >(i)</text><rect x="495.0" y="539.94" width="8.85" height="8.76" fill="#ffffff"/><rect x="495.0" y="531.48" width="8.85" height="8.76" fill="#f6f6f6"/><rect x="495.0" y="523.02" width="8.85" height="8.76" fill="#eeeeee"/><rect x="495.0" y="514.57" width="8.85" height="8.76" fill="#e6e6e6"/><rect x="495.0" y="506.11" width="8.85" height="8.76" fill="#dedede"/><rect x="495.0" y="497.65" width="8.85" height="8.76" fill="#d6d6d6"/><rect x="495.0" y="489.19" width="8.85" height="8.76" fill="#cecece"/><rect x="495.0" y="480.73" width="8.85" height="8.76" fill="#c6c6c6"/><rect x="495.0" y="472.27" width="8.85" height="8.76" fill="#bebebe"/><rect x="495.0" y="463.82" width="8.85" height="8.76" fill="#b6b6b6"/><rect x="495.0" y="455.36" width="8.85" height="8.76" fill="#aeaeae"/><rect x="495.0" y="446.9" width="8.85" height="8.76" fill="#a6a6a6"/><rect x="495.0" y="438.44" width="8.85" height="8.76" fill="#9e9e9e"/><rect x="495.0" y="429.98" width="8.85" height="8.76" fill="#969696"/><rect x="495.0" y="421.52" width="8.85" height="8.76" fill="#8e8e8e"/><rect x="495.0" y="413.07" width="8.85" height="8.76" fill="#7ddd7d"/><rect x="495.0" y="404.61" width="8.85" height="8.76" fill="#76d276"/><rect x="495.0" y="396.15" width="8.85" height="8.76" fill="#70c870"/><rect x="495.0" y="387.69" width="8.85" height="8.76" fill="#6abf6a"/><rect x="495.0" y="379.23" width="8.85" height="8.76" fill="#66b866"/><rect x="495.0" y="370.77" width="8.85" height="8.76" fill="#d0d4ff"/><rect x="495.0" y="362.32" width="8.85" height="8.76" fill="#b0ccff"/><rect x="495.0" y="353.86" width="8.85" height="8.76" fill="#98c4ff"/><rect x="495.0" y="345.4" width="8.85" height="8.76" fill="#80baff"/><rect x="495.0" y="336.94" width="8.85" height="8.76" fill="#68b0ff"/><rect x="495.0" y="328.48" width="8.85" height="8.76" fill="#50a8ff"/><rect x="495.0" y="320.02" width="8.85" height="8.76" fill="#4888ff"/><rect x="495.0" y="311.57" width="8.85" height="8.76" fill="#4060ff"/><rect x="495.0" y="303.11" width="8.85" height="8.76" fill="#3a48ff"/><rect x="495.0" y="294.65" width="8.85" height="8.76" fill="#3030ff"/><rect x="495.0" y="286.19" width="8.85" height="8.76" fill="#0000ff"/><rect x="495.0" y="277.73" width="8.85" height="8.76" fill="#0000f0"/><rect x="495.0" y="269.27" width="8.85" height="8.76" fill="#0000dd"/><rect x="495.0" y="260.82" width="8.85" height="8.76" fill="#0000cc"/><rect x="495.0" y="252.36" width="8.85" height="8.76" fill="#0000c0"/><rect x="495.0" y="243.9" width="8.85" height="8.76" fill="#ffff00"/><rect x="495.0" y="235.44" width="8.85" height="8.76" fill="#fff000"/><rect x="495.0" y="226.98" width="8.85" height="8.76" fill="#ffe400"/><rect x="495.0" y="218.52" width="8.85" height="8.76" fill="#ffd800"/><rect x="495.0" y="210.07" width="8.85" height="8.76" fill="#ffcc00"/><rect x="495.0" y="201.61" width="8.85" height="8.76" fill="#ff8c00"/><rect x="495.0" y="193.15" width="8.85" height="8.76" fill="#ff8800"/><rect x="495.0" y="184.69" width="8.85" height="8.76" fill="#ff8000"/><rect x="495.0" y="176.23" width="8.85" height="8.76" fill="#ff7800"/><rect x="495.0" y="167.77" width="8.85" height="8.76" fill="#ff7000"/><rect x="495.0" y="159.32" width="8.85" height="8.76" fill="#ff3800"/><rect x="495.0" y="150.86" width="8.85" height="8.76" fill="#ff3000"/><rect x="495.0" y="142.4" width="8.85" height="8.76" fill="#ff2800"/><rect x="495.0" y="133.94" width="8.85" height="8.76" fill="#ff2000"/><rect x="495.0" y="125.48" width="8.85" height="8.76" fill="#ff1000"/><rect x="495.0" y="117.02" width="8.85" height="8.76" fill="#cc0000"/><rect x="495.0" y="108.57" width="8.85" height="8.76" fill="#c00000"/><rect x="495.0" y="100.11" width="8.85" height="8.76" fill="#b00000"/><rect x="495.0" y="91.65" width="8.85" height="8.76" fill="#aa0800"/><rect x="495.0" y="83.19" width="8.85" height="8.76" fill="#a00a00"/><rect x="495.0" y="74.73" width="8.85" height="8.76" fill="#600e08"/><rect x="495.0" y="66.27" width="8.85" height="8.76" fill="#5e1010"/><rect x="495.0" y="57.82" width="8.85" height="8.76" fill="#5c1414"/><rect x="495.0" y="49.36" width="8.85" height="8.76" fill="#5c1616"/><rect x="495.0" y="40.9" width="8.85" height="8.76" fill="#581c1c"/><path d="M503.85 548.4h2.3" stroke="#000" stroke-width="0.8"/><text x="533" y="557.2" text-anchor="middle" font-size="20.5">0.0</text><path d="M503.85 497.65h2.3" stroke="#000" stroke-width="0.8"/><text x="533" y="506.45" text-anchor="middle" font-size="20.5">2.0</text><path d="M503.85 446.9h2.3" stroke="#000" stroke-width="0.8"/><text x="533" y="455.7" text-anchor="middle" font-size="20.5">4.0</text><path d="M503.85 396.15h2.3" stroke="#000" stroke-width="0.8"/><text x="533" y="404.95" text-anchor="middle" font-size="20.5">6.0</text><path d="M503.85 345.4h2.3" stroke="#000" stroke-width="0.8"/><text x="533" y="354.2" text-anchor="middle" font-size="20.5">8.0</text><path d="M503.85 294.65h2.3" stroke="#000" stroke-width="0.8"/><text x="533" y="303.45" text-anchor="middle" font-size="20.5">10.0</text><path d="M503.85 243.9h2.3" stroke="#000" stroke-width="0.8"/><text x="533" y="252.7" text-anchor="middle" font-size="20.5">12.0</text><path d="M503.85 193.15h2.3" stroke="#000" stroke-width="0.8"/><text x="533" y="201.95" text-anchor="middle" font-size="20.5">14.0</text><path d="M503.85 142.4h2.3" stroke="#000" stroke-width="0.8"/><text x="533" y="151.2" text-anchor="middle" font-size="20.5">16.0</text><path d="M503.85 91.65h2.3" stroke="#000" stroke-width="0.8"/><text x="533" y="100.45" text-anchor="middle" font-size="20.5">18.0</text></g>
</svg></body></html>
